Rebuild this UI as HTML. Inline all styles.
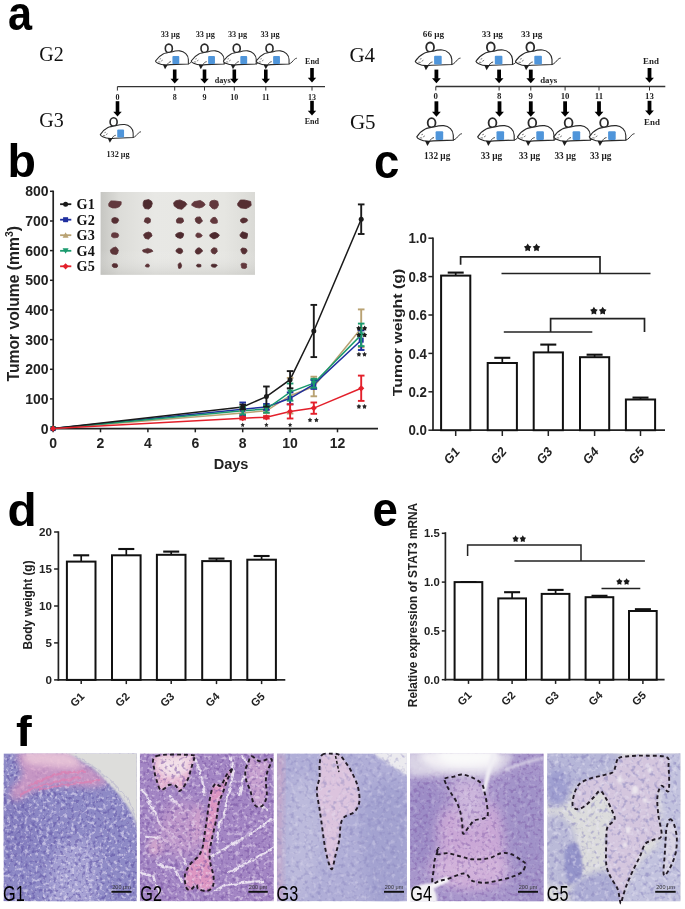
<!DOCTYPE html>
<html><head><meta charset="utf-8"><title>Figure</title>
<style>
html,body{margin:0;padding:0;background:#fff;}
body{width:685px;height:909px;overflow:hidden;font-family:"Liberation Sans", sans-serif;}
svg{display:block;filter:blur(0.35px);}
</style></head><body>
<svg width="685" height="909" viewBox="0 0 685 909">
<rect width="685" height="909" fill="#fff"/>
<text transform="translate(8.0,29.6) scale(0.9,1)" font-family="'Liberation Sans', sans-serif" font-size="48" font-weight="bold" fill="#000">a</text>
<text transform="translate(7.6,177.0) scale(1.0,1)" font-family="'Liberation Sans', sans-serif" font-size="46.5" font-weight="bold" fill="#000">b</text>
<text transform="translate(374.0,177.8) scale(0.95,1)" font-family="'Liberation Sans', sans-serif" font-size="48" font-weight="bold" fill="#000">c</text>
<text transform="translate(7.5,525.7) scale(1.05,1)" font-family="'Liberation Sans', sans-serif" font-size="45.5" font-weight="bold" fill="#000">d</text>
<text transform="translate(372.5,526.4) scale(0.95,1)" font-family="'Liberation Sans', sans-serif" font-size="48" font-weight="bold" fill="#000">e</text>
<text transform="translate(16.0,746.0) scale(1.1,1)" font-family="'Liberation Sans', sans-serif" font-size="43" font-weight="bold" fill="#000">f</text>
<defs>
<symbol id="mouse" overflow="visible">
 <path d="M36.3,22.9 C39,22.4 40.8,19.6 42.3,18 C43.3,17 44.3,16.6 45.2,16.5" fill="none" stroke="#2a2a2a" stroke-width="1"/>
 <ellipse cx="14.8" cy="5.65" rx="3.9" ry="4.75" fill="#fff" stroke="#2a2a2a" stroke-width="1.8"/>
 <path d="M0,19.7 C2,16.5 5,13.5 8.5,11.8 C11,10.6 14,10.2 18,9.6 C21,8.6 24,8.2 27,8.4 C32,8.8 36.5,13 36.5,18 L36.5,22.9 L16.4,23.7 C12,24.3 6,24 2.7,22.1 C1,21.3 0.2,20.5 0,19.7 Z" fill="#fff" stroke="#2a2a2a" stroke-width="1.15"/>
 <rect x="18.8" y="14.1" width="7.6" height="8.8" rx="1" fill="#4f95da"/>
 <path d="M8.2,23.5 L13.6,23.8 L10.6,28.7 Z" fill="#1e1e1e"/>
 <path d="M13.2,23.6 C14,21.8 15.5,20.6 17.2,20.4" fill="none" stroke="#2a2a2a" stroke-width="0.9"/>
 <path d="M4.6,17.6 l1.6,-0.6 M3,20.6 l2.4,0.2 M6.3,19.8 l1.8,-1.2" fill="none" stroke="#444" stroke-width="0.7"/>
</symbol>
</defs>
<text x="39.2" y="61" font-family="'Liberation Serif', serif" font-size="20" fill="#111">G2</text>
<text x="39.2" y="127.3" font-family="'Liberation Serif', serif" font-size="20" fill="#111">G3</text>
<text x="349.4" y="61.5" font-family="'Liberation Serif', serif" font-size="21" fill="#111">G4</text>
<text x="349.9" y="128.5" font-family="'Liberation Serif', serif" font-size="21" fill="#111">G5</text>
<line x1="117.4" y1="86.6" x2="325.0" y2="86.6" stroke="#333" stroke-width="1.3" />
<line x1="117.4" y1="86.6" x2="117.4" y2="90.6" stroke="#333" stroke-width="1.0" />
<text x="117.4" y="99.6" font-family="'Liberation Serif', serif" font-size="8.0" font-weight="bold" text-anchor="middle" fill="#1e1e1e">0</text>
<line x1="174.7" y1="86.6" x2="174.7" y2="90.6" stroke="#333" stroke-width="1.0" />
<text x="174.7" y="99.6" font-family="'Liberation Serif', serif" font-size="8.0" font-weight="bold" text-anchor="middle" fill="#1e1e1e">8</text>
<line x1="204.5" y1="86.6" x2="204.5" y2="90.6" stroke="#333" stroke-width="1.0" />
<text x="204.5" y="99.6" font-family="'Liberation Serif', serif" font-size="8.0" font-weight="bold" text-anchor="middle" fill="#1e1e1e">9</text>
<line x1="234.3" y1="86.6" x2="234.3" y2="90.6" stroke="#333" stroke-width="1.0" />
<text x="234.3" y="99.6" font-family="'Liberation Serif', serif" font-size="8.0" font-weight="bold" text-anchor="middle" fill="#1e1e1e">10</text>
<line x1="265.8" y1="86.6" x2="265.8" y2="90.6" stroke="#333" stroke-width="1.0" />
<text x="265.8" y="99.6" font-family="'Liberation Serif', serif" font-size="8.0" font-weight="bold" text-anchor="middle" fill="#1e1e1e">11</text>
<line x1="312.0" y1="86.6" x2="312.0" y2="90.6" stroke="#333" stroke-width="1.0" />
<text x="312.0" y="99.6" font-family="'Liberation Serif', serif" font-size="8.0" font-weight="bold" text-anchor="middle" fill="#1e1e1e">13</text>
<text x="222.7" y="82.5" font-family="'Liberation Serif', serif" font-size="8.2" font-weight="bold" text-anchor="middle" fill="#1e1e1e">days</text>
<use href="#mouse" transform="translate(155.5,43.3) scale(0.9)"/>
<use href="#mouse" transform="translate(191.2,43.3) scale(0.9)"/>
<use href="#mouse" transform="translate(223.4,43.3) scale(0.9)"/>
<use href="#mouse" transform="translate(256.2,43.3) scale(0.9)"/>
<rect x="172.90" y="69.5" width="3.6" height="9.8" fill="#000"/>
<path d="M170.50,78.7 L178.90,78.7 L174.70,83.5 Z" fill="#000"/>
<rect x="202.70" y="69.5" width="3.6" height="9.8" fill="#000"/>
<path d="M200.30,78.7 L208.70,78.7 L204.50,83.5 Z" fill="#000"/>
<rect x="232.50" y="69.5" width="3.6" height="9.8" fill="#000"/>
<path d="M230.10,78.7 L238.50,78.7 L234.30,83.5 Z" fill="#000"/>
<rect x="264.00" y="69.5" width="3.6" height="9.8" fill="#000"/>
<path d="M261.60,78.7 L270.00,78.7 L265.80,83.5 Z" fill="#000"/>
<text x="170.3" y="36.9" font-family="'Liberation Serif', serif" font-size="8.3" font-weight="bold" text-anchor="middle" fill="#1e1e1e">33 &#956;g</text>
<text x="205.3" y="36.9" font-family="'Liberation Serif', serif" font-size="8.3" font-weight="bold" text-anchor="middle" fill="#1e1e1e">33 &#956;g</text>
<text x="237.6" y="36.9" font-family="'Liberation Serif', serif" font-size="8.3" font-weight="bold" text-anchor="middle" fill="#1e1e1e">33 &#956;g</text>
<text x="270.1" y="36.9" font-family="'Liberation Serif', serif" font-size="8.3" font-weight="bold" text-anchor="middle" fill="#1e1e1e">33 &#956;g</text>
<text x="312.2" y="64.0" font-family="'Liberation Serif', serif" font-size="8.0" font-weight="bold" text-anchor="middle" fill="#1e1e1e">End</text>
<rect x="310.20" y="68.0" width="3.6" height="10.3" fill="#000"/>
<path d="M307.80,77.7 L316.20,77.7 L312.00,82.5 Z" fill="#000"/>
<rect x="115.70" y="101.2" width="3.6" height="11.1" fill="#000"/>
<path d="M113.30,111.7 L121.70,111.7 L117.50,116.5 Z" fill="#000"/>
<use href="#mouse" transform="translate(100.3,116.9) scale(0.9)"/>
<text x="118.0" y="157.0" font-family="'Liberation Serif', serif" font-size="8.2" font-weight="bold" text-anchor="middle" fill="#1e1e1e">132 &#956;g</text>
<rect x="310.20" y="100.8" width="3.6" height="10.5" fill="#000"/>
<path d="M307.80,110.7 L316.20,110.7 L312.00,115.5 Z" fill="#000"/>
<text x="311.9" y="124.3" font-family="'Liberation Serif', serif" font-size="8.0" font-weight="bold" text-anchor="middle" fill="#1e1e1e">End</text>
<line x1="435.8" y1="86.5" x2="665.3" y2="86.5" stroke="#333" stroke-width="1.3" />
<line x1="435.8" y1="86.5" x2="435.8" y2="90.5" stroke="#333" stroke-width="1.0" />
<text x="435.8" y="99.4" font-family="'Liberation Serif', serif" font-size="8.8" font-weight="bold" text-anchor="middle" fill="#1e1e1e">0</text>
<line x1="499.1" y1="86.5" x2="499.1" y2="90.5" stroke="#333" stroke-width="1.0" />
<text x="499.1" y="99.4" font-family="'Liberation Serif', serif" font-size="8.8" font-weight="bold" text-anchor="middle" fill="#1e1e1e">8</text>
<line x1="530.8" y1="86.5" x2="530.8" y2="90.5" stroke="#333" stroke-width="1.0" />
<text x="530.8" y="99.4" font-family="'Liberation Serif', serif" font-size="8.8" font-weight="bold" text-anchor="middle" fill="#1e1e1e">9</text>
<line x1="565.1" y1="86.5" x2="565.1" y2="90.5" stroke="#333" stroke-width="1.0" />
<text x="565.1" y="99.4" font-family="'Liberation Serif', serif" font-size="8.8" font-weight="bold" text-anchor="middle" fill="#1e1e1e">10</text>
<line x1="599.0" y1="86.5" x2="599.0" y2="90.5" stroke="#333" stroke-width="1.0" />
<text x="599.0" y="99.4" font-family="'Liberation Serif', serif" font-size="8.8" font-weight="bold" text-anchor="middle" fill="#1e1e1e">11</text>
<line x1="649.5" y1="86.5" x2="649.5" y2="90.5" stroke="#333" stroke-width="1.0" />
<text x="649.5" y="99.4" font-family="'Liberation Serif', serif" font-size="8.8" font-weight="bold" text-anchor="middle" fill="#1e1e1e">13</text>
<text x="548.7" y="83.2" font-family="'Liberation Serif', serif" font-size="8.8" font-weight="bold" text-anchor="middle" fill="#1e1e1e">days</text>
<use href="#mouse" transform="translate(415.3,41.6) scale(1.0)"/>
<use href="#mouse" transform="translate(476.0,41.6) scale(1.0)"/>
<use href="#mouse" transform="translate(515.5,41.6) scale(1.0)"/>
<rect x="434.50" y="69.6" width="3.8" height="9.2" fill="#000"/>
<path d="M432.00,78.2 L440.80,78.2 L436.40,83.2 Z" fill="#000"/>
<rect x="497.20" y="69.6" width="3.8" height="9.2" fill="#000"/>
<path d="M494.70,78.2 L503.50,78.2 L499.10,83.2 Z" fill="#000"/>
<rect x="528.90" y="69.6" width="3.8" height="9.2" fill="#000"/>
<path d="M526.40,78.2 L535.20,78.2 L530.80,83.2 Z" fill="#000"/>
<text x="433.5" y="36.8" font-family="'Liberation Serif', serif" font-size="9.2" font-weight="bold" text-anchor="middle" fill="#1e1e1e">66 &#956;g</text>
<text x="492.3" y="36.8" font-family="'Liberation Serif', serif" font-size="9.2" font-weight="bold" text-anchor="middle" fill="#1e1e1e">33 &#956;g</text>
<text x="531.6" y="36.8" font-family="'Liberation Serif', serif" font-size="9.2" font-weight="bold" text-anchor="middle" fill="#1e1e1e">33 &#956;g</text>
<text x="651.0" y="64.2" font-family="'Liberation Serif', serif" font-size="8.9" font-weight="bold" text-anchor="middle" fill="#1e1e1e">End</text>
<rect x="647.60" y="68.0" width="3.8" height="10.3" fill="#000"/>
<path d="M645.10,77.7 L653.90,77.7 L649.50,82.7 Z" fill="#000"/>
<rect x="434.50" y="101.3" width="3.8" height="11.0" fill="#000"/>
<path d="M432.00,111.7 L440.80,111.7 L436.40,116.7 Z" fill="#000"/>
<rect x="497.60" y="101.3" width="3.8" height="11.0" fill="#000"/>
<path d="M495.10,111.7 L503.90,111.7 L499.50,116.7 Z" fill="#000"/>
<rect x="528.90" y="101.3" width="3.8" height="11.0" fill="#000"/>
<path d="M526.40,111.7 L535.20,111.7 L530.80,116.7 Z" fill="#000"/>
<rect x="563.20" y="101.3" width="3.8" height="11.0" fill="#000"/>
<path d="M560.70,111.7 L569.50,111.7 L565.10,116.7 Z" fill="#000"/>
<rect x="597.10" y="101.3" width="3.8" height="11.0" fill="#000"/>
<path d="M594.60,111.7 L603.40,111.7 L599.00,116.7 Z" fill="#000"/>
<use href="#mouse" transform="translate(416.8,117.2) scale(1.0)"/>
<use href="#mouse" transform="translate(477.7,117.2) scale(1.0)"/>
<use href="#mouse" transform="translate(517.5,117.2) scale(1.0)"/>
<use href="#mouse" transform="translate(553.8,117.2) scale(1.0)"/>
<use href="#mouse" transform="translate(589.3,117.2) scale(1.0)"/>
<text x="437.2" y="158.8" font-family="'Liberation Serif', serif" font-size="9.3" font-weight="bold" text-anchor="middle" fill="#1e1e1e">132 &#956;g</text>
<text x="491.5" y="158.8" font-family="'Liberation Serif', serif" font-size="9.3" font-weight="bold" text-anchor="middle" fill="#1e1e1e">33 &#956;g</text>
<text x="529.5" y="158.8" font-family="'Liberation Serif', serif" font-size="9.3" font-weight="bold" text-anchor="middle" fill="#1e1e1e">33 &#956;g</text>
<text x="565.2" y="158.8" font-family="'Liberation Serif', serif" font-size="9.3" font-weight="bold" text-anchor="middle" fill="#1e1e1e">33 &#956;g</text>
<text x="600.7" y="158.8" font-family="'Liberation Serif', serif" font-size="9.3" font-weight="bold" text-anchor="middle" fill="#1e1e1e">33 &#956;g</text>
<rect x="647.60" y="100.8" width="3.8" height="10.3" fill="#000"/>
<path d="M645.10,110.5 L653.90,110.5 L649.50,115.5 Z" fill="#000"/>
<text x="652.0" y="125.3" font-family="'Liberation Serif', serif" font-size="8.9" font-weight="bold" text-anchor="middle" fill="#1e1e1e">End</text>
<defs><linearGradient id="phbg" x1="0" y1="0" x2="1" y2="0"><stop offset="0" stop-color="#c6c6c2"/><stop offset="0.12" stop-color="#dcdcd8"/><stop offset="0.35" stop-color="#e8e8e5"/><stop offset="0.8" stop-color="#e6e6e2"/><stop offset="1" stop-color="#dadad6"/></linearGradient><linearGradient id="phv" x1="0" y1="0" x2="0" y2="1"><stop offset="0" stop-color="#fff" stop-opacity="0"/><stop offset="0.7" stop-color="#fff" stop-opacity="0"/><stop offset="1" stop-color="#b8b8b4" stop-opacity="0.35"/></linearGradient><filter id="tb" x="-30%" y="-30%" width="160%" height="160%"><feGaussianBlur stdDeviation="0.45"/></filter></defs>
<rect x="100.6" y="192" width="154.4" height="82.8" fill="url(#phbg)"/>
<rect x="100.6" y="192" width="154.4" height="82.8" fill="url(#phv)"/>
<g filter="url(#tb)">
<path d="M121.1,204.2 119.3,206.7 115.9,208.0 112.4,207.9 108.9,206.3 108.7,203.8 110.7,200.9 115.0,201.0 121.2,201.8Z" fill="#62383d" stroke="#62383d" stroke-width="0.8" stroke-linejoin="round"/>
<path d="M152.3,203.6 151.1,207.2 148.7,209.1 144.8,208.5 143.2,205.5 143.2,202.8 144.1,200.5 148.7,199.6 151.6,201.3Z" fill="#4e2a2f" stroke="#4e2a2f" stroke-width="0.8" stroke-linejoin="round"/>
<path d="M186.9,204.3 184.5,207.0 181.8,209.3 177.7,208.5 174.2,205.9 173.6,202.8 175.8,200.8 180.0,199.9 185.1,202.1Z" fill="#552e33" stroke="#552e33" stroke-width="0.8" stroke-linejoin="round"/>
<path d="M205.2,204.8 202.7,206.9 199.3,208.0 195.4,207.3 191.6,205.2 192.4,203.2 194.3,201.6 200.4,200.5 203.7,202.6Z" fill="#62383d" stroke="#62383d" stroke-width="0.8" stroke-linejoin="round"/>
<path d="M218.5,205.1 217.0,207.9 214.7,209.1 212.3,208.4 209.7,205.5 210.0,202.1 211.3,200.8 214.5,200.2 217.7,201.2Z" fill="#62383d" stroke="#62383d" stroke-width="0.8" stroke-linejoin="round"/>
<path d="M251.2,205.4 249.1,207.1 246.0,208.6 240.6,207.9 237.7,205.4 237.8,203.3 240.3,200.0 244.5,200.0 250.7,201.5Z" fill="#552e33" stroke="#552e33" stroke-width="0.8" stroke-linejoin="round"/>
<path d="M118.7,220.4 117.1,222.9 115.3,223.3 113.2,223.1 111.9,221.5 111.9,219.0 112.5,218.2 114.9,217.5 117.9,218.4Z" fill="#552e33" stroke="#552e33" stroke-width="0.8" stroke-linejoin="round"/>
<path d="M150.4,220.0 150.2,222.3 147.6,223.5 146.2,222.7 144.2,221.7 144.8,219.6 145.5,218.0 148.4,217.7 150.2,218.8Z" fill="#5c3439" stroke="#5c3439" stroke-width="0.8" stroke-linejoin="round"/>
<path d="M183.6,221.0 183.1,222.0 181.2,223.2 177.0,222.9 176.4,221.2 176.5,219.8 178.2,217.9 180.8,217.9 182.7,218.3Z" fill="#5c3439" stroke="#5c3439" stroke-width="0.8" stroke-linejoin="round"/>
<path d="M202.5,221.0 200.9,222.7 199.3,223.7 197.7,223.2 195.8,221.8 195.1,218.9 196.7,217.2 200.1,216.9 201.0,218.4Z" fill="#5c3439" stroke="#5c3439" stroke-width="0.8" stroke-linejoin="round"/>
<path d="M217.4,220.5 217.2,223.0 214.5,223.4 212.0,223.1 210.4,221.6 210.8,219.8 212.8,217.6 215.2,217.3 216.5,218.7Z" fill="#62383d" stroke="#62383d" stroke-width="0.8" stroke-linejoin="round"/>
<path d="M247.6,220.5 246.6,221.8 243.8,222.9 242.1,222.9 240.5,221.3 240.7,219.4 242.8,218.1 244.5,218.1 247.0,218.9Z" fill="#552e33" stroke="#552e33" stroke-width="0.8" stroke-linejoin="round"/>
<path d="M118.7,235.4 117.8,237.3 114.9,237.8 113.5,237.7 111.6,236.6 111.5,234.7 112.4,233.0 115.2,232.8 117.9,233.5Z" fill="#62383d" stroke="#62383d" stroke-width="0.8" stroke-linejoin="round"/>
<path d="M152.1,235.9 150.7,237.0 148.4,239.2 145.1,238.3 144.0,236.1 143.5,234.7 145.4,233.0 148.6,232.0 151.0,233.0Z" fill="#552e33" stroke="#552e33" stroke-width="0.8" stroke-linejoin="round"/>
<path d="M183.6,235.1 182.6,237.4 180.5,238.4 177.2,237.5 175.9,236.2 175.7,234.4 177.7,233.0 180.6,232.3 183.5,233.6Z" fill="#4e2a2f" stroke="#4e2a2f" stroke-width="0.8" stroke-linejoin="round"/>
<path d="M202.3,235.8 201.4,236.7 199.4,237.6 197.2,237.6 195.9,236.2 195.9,234.8 197.2,233.0 199.4,233.2 200.8,233.9Z" fill="#62383d" stroke="#62383d" stroke-width="0.8" stroke-linejoin="round"/>
<path d="M219.4,235.0 217.8,237.3 214.0,238.9 212.4,238.3 209.9,236.4 209.8,234.7 212.4,233.0 215.0,232.4 216.9,233.1Z" fill="#4e2a2f" stroke="#4e2a2f" stroke-width="0.8" stroke-linejoin="round"/>
<path d="M247.5,235.4 246.7,238.3 243.8,238.5 242.4,238.1 240.2,236.2 240.0,234.7 242.3,231.8 244.2,232.3 247.5,233.6Z" fill="#4e2a2f" stroke="#4e2a2f" stroke-width="0.8" stroke-linejoin="round"/>
<path d="M118.3,250.3 117.7,253.2 116.4,254.5 112.4,254.0 110.9,252.7 110.3,250.1 112.8,248.0 115.7,247.0 117.4,248.6Z" fill="#5c3439" stroke="#5c3439" stroke-width="0.8" stroke-linejoin="round"/>
<path d="M152.9,251.3 151.1,252.0 147.6,253.2 145.4,252.6 143.0,251.7 142.6,250.1 146.3,248.9 147.5,248.4 151.7,249.7Z" fill="#5c3439" stroke="#5c3439" stroke-width="0.8" stroke-linejoin="round"/>
<path d="M182.8,251.2 182.1,252.7 180.5,253.7 178.2,253.2 176.0,251.6 176.1,250.0 178.3,248.3 180.3,248.3 181.8,249.0Z" fill="#552e33" stroke="#552e33" stroke-width="0.8" stroke-linejoin="round"/>
<path d="M202.6,251.0 201.1,252.6 199.1,254.0 196.7,254.0 195.2,251.9 195.6,250.3 197.0,248.5 199.1,247.7 201.6,249.3Z" fill="#552e33" stroke="#552e33" stroke-width="0.8" stroke-linejoin="round"/>
<path d="M217.3,251.4 216.5,252.5 214.9,254.0 212.5,253.4 211.3,251.8 211.1,250.1 212.5,248.4 214.0,247.7 216.6,248.4Z" fill="#5c3439" stroke="#5c3439" stroke-width="0.8" stroke-linejoin="round"/>
<path d="M247.2,251.0 245.9,252.9 244.8,254.0 242.6,253.7 241.3,251.5 240.8,249.3 242.4,248.0 244.7,248.3 246.3,248.9Z" fill="#552e33" stroke="#552e33" stroke-width="0.8" stroke-linejoin="round"/>
<path d="M117.8,266.0 116.8,267.4 115.1,267.6 113.9,267.5 112.4,266.4 112.2,264.7 113.4,263.7 115.5,263.7 116.8,263.9Z" fill="#552e33" stroke="#552e33" stroke-width="0.8" stroke-linejoin="round"/>
<path d="M149.4,265.8 149.0,266.8 148.3,267.1 146.5,266.9 145.3,266.2 145.7,265.2 146.5,264.2 148.2,264.1 149.1,264.8Z" fill="#5c3439" stroke="#5c3439" stroke-width="0.8" stroke-linejoin="round"/>
<path d="M181.6,265.5 181.1,267.6 180.3,268.2 178.8,268.4 178.4,266.9 178.1,264.7 178.8,263.5 180.4,262.7 181.1,264.1Z" fill="#552e33" stroke="#552e33" stroke-width="0.8" stroke-linejoin="round"/>
<path d="M200.9,265.9 200.9,266.7 198.7,267.1 197.7,266.9 196.4,265.9 196.6,265.2 197.3,264.3 198.8,264.2 200.9,264.7Z" fill="#4e2a2f" stroke="#4e2a2f" stroke-width="0.8" stroke-linejoin="round"/>
<path d="M217.2,265.5 216.0,266.7 215.1,267.3 212.8,267.1 211.7,266.5 211.1,265.2 212.1,264.3 214.9,264.2 216.7,264.8Z" fill="#4e2a2f" stroke="#4e2a2f" stroke-width="0.8" stroke-linejoin="round"/>
<path d="M246.5,265.5 246.6,267.5 245.1,268.5 241.9,268.1 241.5,266.7 241.0,264.6 241.8,263.3 244.3,263.2 246.7,264.1Z" fill="#62383d" stroke="#62383d" stroke-width="0.8" stroke-linejoin="round"/>
</g>
<line x1="53.2" y1="190.6" x2="53.2" y2="429.4" stroke="#222" stroke-width="1.7" />
<line x1="52.4" y1="428.6" x2="378.0" y2="428.6" stroke="#222" stroke-width="1.7" />
<line x1="50.0" y1="428.6" x2="53.2" y2="428.6" stroke="#222" stroke-width="1.5" />
<text x="48.6" y="433.6" font-family="'Liberation Sans', sans-serif" font-size="14" font-weight="bold" text-anchor="end" fill="#222" >0</text>
<line x1="50.0" y1="398.9" x2="53.2" y2="398.9" stroke="#222" stroke-width="1.5" />
<text x="48.6" y="403.9" font-family="'Liberation Sans', sans-serif" font-size="14" font-weight="bold" text-anchor="end" fill="#222" >100</text>
<line x1="50.0" y1="369.3" x2="53.2" y2="369.3" stroke="#222" stroke-width="1.5" />
<text x="48.6" y="374.3" font-family="'Liberation Sans', sans-serif" font-size="14" font-weight="bold" text-anchor="end" fill="#222" >200</text>
<line x1="50.0" y1="339.6" x2="53.2" y2="339.6" stroke="#222" stroke-width="1.5" />
<text x="48.6" y="344.6" font-family="'Liberation Sans', sans-serif" font-size="14" font-weight="bold" text-anchor="end" fill="#222" >300</text>
<line x1="50.0" y1="310.0" x2="53.2" y2="310.0" stroke="#222" stroke-width="1.5" />
<text x="48.6" y="315.0" font-family="'Liberation Sans', sans-serif" font-size="14" font-weight="bold" text-anchor="end" fill="#222" >400</text>
<line x1="50.0" y1="280.3" x2="53.2" y2="280.3" stroke="#222" stroke-width="1.5" />
<text x="48.6" y="285.3" font-family="'Liberation Sans', sans-serif" font-size="14" font-weight="bold" text-anchor="end" fill="#222" >500</text>
<line x1="50.0" y1="250.6" x2="53.2" y2="250.6" stroke="#222" stroke-width="1.5" />
<text x="48.6" y="255.6" font-family="'Liberation Sans', sans-serif" font-size="14" font-weight="bold" text-anchor="end" fill="#222" >600</text>
<line x1="50.0" y1="221.0" x2="53.2" y2="221.0" stroke="#222" stroke-width="1.5" />
<text x="48.6" y="226.0" font-family="'Liberation Sans', sans-serif" font-size="14" font-weight="bold" text-anchor="end" fill="#222" >700</text>
<line x1="50.0" y1="191.3" x2="53.2" y2="191.3" stroke="#222" stroke-width="1.5" />
<text x="48.6" y="196.3" font-family="'Liberation Sans', sans-serif" font-size="14" font-weight="bold" text-anchor="end" fill="#222" >800</text>
<line x1="53.1" y1="428.6" x2="53.1" y2="432.3" stroke="#222" stroke-width="1.5" />
<text x="53.1" y="447.5" font-family="'Liberation Sans', sans-serif" font-size="14" font-weight="bold" text-anchor="middle" fill="#222" >0</text>
<line x1="100.5" y1="428.6" x2="100.5" y2="432.3" stroke="#222" stroke-width="1.5" />
<text x="100.5" y="447.5" font-family="'Liberation Sans', sans-serif" font-size="14" font-weight="bold" text-anchor="middle" fill="#222" >2</text>
<line x1="147.9" y1="428.6" x2="147.9" y2="432.3" stroke="#222" stroke-width="1.5" />
<text x="147.9" y="447.5" font-family="'Liberation Sans', sans-serif" font-size="14" font-weight="bold" text-anchor="middle" fill="#222" >4</text>
<line x1="195.3" y1="428.6" x2="195.3" y2="432.3" stroke="#222" stroke-width="1.5" />
<text x="195.3" y="447.5" font-family="'Liberation Sans', sans-serif" font-size="14" font-weight="bold" text-anchor="middle" fill="#222" >6</text>
<line x1="242.7" y1="428.6" x2="242.7" y2="432.3" stroke="#222" stroke-width="1.5" />
<text x="242.7" y="447.5" font-family="'Liberation Sans', sans-serif" font-size="14" font-weight="bold" text-anchor="middle" fill="#222" >8</text>
<line x1="290.1" y1="428.6" x2="290.1" y2="432.3" stroke="#222" stroke-width="1.5" />
<text x="290.1" y="447.5" font-family="'Liberation Sans', sans-serif" font-size="14" font-weight="bold" text-anchor="middle" fill="#222" >10</text>
<line x1="337.5" y1="428.6" x2="337.5" y2="432.3" stroke="#222" stroke-width="1.5" />
<text x="337.5" y="447.5" font-family="'Liberation Sans', sans-serif" font-size="14" font-weight="bold" text-anchor="middle" fill="#222" >12</text>
<text x="231.0" y="469.4" font-family="'Liberation Sans', sans-serif" font-size="14.5" font-weight="bold" text-anchor="middle" fill="#222" >Days</text>
<text transform="translate(19,303.7) rotate(-90)" font-family="'Liberation Sans', sans-serif" font-size="15.7" font-weight="bold" text-anchor="middle" fill="#222">Tumor volume (mm<tspan dy="-6.5" font-size="10.5">3</tspan><tspan dy="6.5">)</tspan></text>
<path d="M53.1,428.6 L242.7,412.9 L266.4,410.8 L290.1,395.7 L313.8,386.5 L361.2,328.3" fill="none" stroke="#b9a273" stroke-width="1.5"/>
<path d="M53.1,428.6 L242.7,409.3 L266.4,406.9 L290.1,398.3 L313.8,384.4 L361.2,340.2" fill="none" stroke="#1f2f9f" stroke-width="1.5"/>
<path d="M53.1,428.6 L242.7,410.8 L266.4,409.0 L290.1,392.1 L313.8,383.2 L361.2,334.9" fill="none" stroke="#1b9a6e" stroke-width="1.5"/>
<path d="M53.1,428.6 L242.7,406.9 L266.4,396.6 L290.1,379.7 L313.8,331.0 L361.2,219.2" fill="none" stroke="#1a1a1a" stroke-width="1.5"/>
<path d="M53.1,428.6 L242.7,418.2 L266.4,417.3 L290.1,411.4 L313.8,408.1 L361.2,388.3" fill="none" stroke="#e3202b" stroke-width="1.5"/>
<path d="M53.1,425.6 L56.1,431.1 L50.1,431.1 Z" fill="#b9a273"/>
<line x1="242.7" y1="410.5" x2="242.7" y2="415.3" stroke="#b9a273" stroke-width="1.9" />
<line x1="239.4" y1="410.5" x2="246.0" y2="410.5" stroke="#b9a273" stroke-width="1.9" />
<line x1="239.4" y1="415.3" x2="246.0" y2="415.3" stroke="#b9a273" stroke-width="1.9" />
<path d="M242.7,409.9 L245.7,415.4 L239.7,415.4 Z" fill="#b9a273"/>
<line x1="266.4" y1="408.4" x2="266.4" y2="413.2" stroke="#b9a273" stroke-width="1.9" />
<line x1="263.1" y1="408.4" x2="269.7" y2="408.4" stroke="#b9a273" stroke-width="1.9" />
<line x1="263.1" y1="413.2" x2="269.7" y2="413.2" stroke="#b9a273" stroke-width="1.9" />
<path d="M266.4,407.8 L269.4,413.3 L263.4,413.3 Z" fill="#b9a273"/>
<line x1="290.1" y1="377.9" x2="290.1" y2="413.5" stroke="#b9a273" stroke-width="1.9" />
<line x1="286.8" y1="377.9" x2="293.4" y2="377.9" stroke="#b9a273" stroke-width="1.9" />
<line x1="286.8" y1="413.5" x2="293.4" y2="413.5" stroke="#b9a273" stroke-width="1.9" />
<path d="M290.1,392.7 L293.1,398.2 L287.1,398.2 Z" fill="#b9a273"/>
<line x1="313.8" y1="376.7" x2="313.8" y2="396.3" stroke="#b9a273" stroke-width="1.9" />
<line x1="310.5" y1="376.7" x2="317.1" y2="376.7" stroke="#b9a273" stroke-width="1.9" />
<line x1="310.5" y1="396.3" x2="317.1" y2="396.3" stroke="#b9a273" stroke-width="1.9" />
<path d="M313.8,383.5 L316.8,389.0 L310.8,389.0 Z" fill="#b9a273"/>
<line x1="361.2" y1="309.4" x2="361.2" y2="347.3" stroke="#b9a273" stroke-width="1.9" />
<line x1="357.9" y1="309.4" x2="364.5" y2="309.4" stroke="#b9a273" stroke-width="1.9" />
<line x1="357.9" y1="347.3" x2="364.5" y2="347.3" stroke="#b9a273" stroke-width="1.9" />
<path d="M361.2,325.3 L364.2,330.8 L358.2,330.8 Z" fill="#b9a273"/>
<rect x="50.6" y="426.1" width="5.0" height="5.0" fill="#1f2f9f"/>
<line x1="242.7" y1="402.5" x2="242.7" y2="416.1" stroke="#1f2f9f" stroke-width="1.9" />
<line x1="239.4" y1="402.5" x2="246.0" y2="402.5" stroke="#1f2f9f" stroke-width="1.9" />
<line x1="239.4" y1="416.1" x2="246.0" y2="416.1" stroke="#1f2f9f" stroke-width="1.9" />
<rect x="240.2" y="406.8" width="5.0" height="5.0" fill="#1f2f9f"/>
<line x1="266.4" y1="404.0" x2="266.4" y2="409.9" stroke="#1f2f9f" stroke-width="1.9" />
<line x1="263.1" y1="404.0" x2="269.7" y2="404.0" stroke="#1f2f9f" stroke-width="1.9" />
<line x1="263.1" y1="409.9" x2="269.7" y2="409.9" stroke="#1f2f9f" stroke-width="1.9" />
<rect x="263.9" y="404.4" width="5.0" height="5.0" fill="#1f2f9f"/>
<line x1="290.1" y1="392.4" x2="290.1" y2="404.3" stroke="#1f2f9f" stroke-width="1.9" />
<line x1="286.8" y1="392.4" x2="293.4" y2="392.4" stroke="#1f2f9f" stroke-width="1.9" />
<line x1="286.8" y1="404.3" x2="293.4" y2="404.3" stroke="#1f2f9f" stroke-width="1.9" />
<rect x="287.6" y="395.8" width="5.0" height="5.0" fill="#1f2f9f"/>
<line x1="313.8" y1="380.0" x2="313.8" y2="388.9" stroke="#1f2f9f" stroke-width="1.9" />
<line x1="310.5" y1="380.0" x2="317.1" y2="380.0" stroke="#1f2f9f" stroke-width="1.9" />
<line x1="310.5" y1="388.9" x2="317.1" y2="388.9" stroke="#1f2f9f" stroke-width="1.9" />
<rect x="311.3" y="381.9" width="5.0" height="5.0" fill="#1f2f9f"/>
<line x1="361.2" y1="330.4" x2="361.2" y2="350.0" stroke="#1f2f9f" stroke-width="1.9" />
<line x1="357.9" y1="330.4" x2="364.5" y2="330.4" stroke="#1f2f9f" stroke-width="1.9" />
<line x1="357.9" y1="350.0" x2="364.5" y2="350.0" stroke="#1f2f9f" stroke-width="1.9" />
<rect x="358.7" y="337.7" width="5.0" height="5.0" fill="#1f2f9f"/>
<path d="M53.1,431.6 L56.1,426.1 L50.1,426.1 Z" fill="#1b9a6e"/>
<line x1="242.7" y1="407.2" x2="242.7" y2="414.4" stroke="#1b9a6e" stroke-width="1.9" />
<line x1="239.4" y1="407.2" x2="246.0" y2="407.2" stroke="#1b9a6e" stroke-width="1.9" />
<line x1="239.4" y1="414.4" x2="246.0" y2="414.4" stroke="#1b9a6e" stroke-width="1.9" />
<path d="M242.7,413.8 L245.7,408.3 L239.7,408.3 Z" fill="#1b9a6e"/>
<line x1="266.4" y1="405.5" x2="266.4" y2="412.6" stroke="#1b9a6e" stroke-width="1.9" />
<line x1="263.1" y1="405.5" x2="269.7" y2="405.5" stroke="#1b9a6e" stroke-width="1.9" />
<line x1="263.1" y1="412.6" x2="269.7" y2="412.6" stroke="#1b9a6e" stroke-width="1.9" />
<path d="M266.4,412.0 L269.4,406.5 L263.4,406.5 Z" fill="#1b9a6e"/>
<line x1="290.1" y1="383.5" x2="290.1" y2="400.7" stroke="#1b9a6e" stroke-width="1.9" />
<line x1="286.8" y1="383.5" x2="293.4" y2="383.5" stroke="#1b9a6e" stroke-width="1.9" />
<line x1="286.8" y1="400.7" x2="293.4" y2="400.7" stroke="#1b9a6e" stroke-width="1.9" />
<path d="M290.1,395.1 L293.1,389.6 L287.1,389.6 Z" fill="#1b9a6e"/>
<line x1="313.8" y1="378.8" x2="313.8" y2="387.7" stroke="#1b9a6e" stroke-width="1.9" />
<line x1="310.5" y1="378.8" x2="317.1" y2="378.8" stroke="#1b9a6e" stroke-width="1.9" />
<line x1="310.5" y1="387.7" x2="317.1" y2="387.7" stroke="#1b9a6e" stroke-width="1.9" />
<path d="M313.8,386.2 L316.8,380.7 L310.8,380.7 Z" fill="#1b9a6e"/>
<line x1="361.2" y1="323.6" x2="361.2" y2="346.1" stroke="#1b9a6e" stroke-width="1.9" />
<line x1="357.9" y1="323.6" x2="364.5" y2="323.6" stroke="#1b9a6e" stroke-width="1.9" />
<line x1="357.9" y1="346.1" x2="364.5" y2="346.1" stroke="#1b9a6e" stroke-width="1.9" />
<path d="M361.2,337.9 L364.2,332.4 L358.2,332.4 Z" fill="#1b9a6e"/>
<circle cx="53.1" cy="428.6" r="2.5" fill="#1a1a1a"/>
<line x1="242.7" y1="404.6" x2="242.7" y2="409.3" stroke="#1a1a1a" stroke-width="1.9" />
<line x1="239.4" y1="404.6" x2="246.0" y2="404.6" stroke="#1a1a1a" stroke-width="1.9" />
<line x1="239.4" y1="409.3" x2="246.0" y2="409.3" stroke="#1a1a1a" stroke-width="1.9" />
<circle cx="242.7" cy="406.9" r="2.5" fill="#1a1a1a"/>
<line x1="266.4" y1="386.5" x2="266.4" y2="406.7" stroke="#1a1a1a" stroke-width="1.9" />
<line x1="263.1" y1="386.5" x2="269.7" y2="386.5" stroke="#1a1a1a" stroke-width="1.9" />
<line x1="263.1" y1="406.7" x2="269.7" y2="406.7" stroke="#1a1a1a" stroke-width="1.9" />
<circle cx="266.4" cy="396.6" r="2.5" fill="#1a1a1a"/>
<line x1="290.1" y1="371.1" x2="290.1" y2="388.3" stroke="#1a1a1a" stroke-width="1.9" />
<line x1="286.8" y1="371.1" x2="293.4" y2="371.1" stroke="#1a1a1a" stroke-width="1.9" />
<line x1="286.8" y1="388.3" x2="293.4" y2="388.3" stroke="#1a1a1a" stroke-width="1.9" />
<circle cx="290.1" cy="379.7" r="2.5" fill="#1a1a1a"/>
<line x1="313.8" y1="304.9" x2="313.8" y2="357.1" stroke="#1a1a1a" stroke-width="1.9" />
<line x1="310.5" y1="304.9" x2="317.1" y2="304.9" stroke="#1a1a1a" stroke-width="1.9" />
<line x1="310.5" y1="357.1" x2="317.1" y2="357.1" stroke="#1a1a1a" stroke-width="1.9" />
<circle cx="313.8" cy="331.0" r="2.5" fill="#1a1a1a"/>
<line x1="361.2" y1="204.4" x2="361.2" y2="234.0" stroke="#1a1a1a" stroke-width="1.9" />
<line x1="357.9" y1="204.4" x2="364.5" y2="204.4" stroke="#1a1a1a" stroke-width="1.9" />
<line x1="357.9" y1="234.0" x2="364.5" y2="234.0" stroke="#1a1a1a" stroke-width="1.9" />
<circle cx="361.2" cy="219.2" r="2.5" fill="#1a1a1a"/>
<path d="M53.1,425.5 L56.2,428.6 L53.1,431.7 L50.0,428.6 Z" fill="#e3202b"/>
<line x1="242.7" y1="417.0" x2="242.7" y2="419.4" stroke="#e3202b" stroke-width="1.9" />
<line x1="239.4" y1="417.0" x2="246.0" y2="417.0" stroke="#e3202b" stroke-width="1.9" />
<line x1="239.4" y1="419.4" x2="246.0" y2="419.4" stroke="#e3202b" stroke-width="1.9" />
<path d="M242.7,415.1 L245.8,418.2 L242.7,421.3 L239.6,418.2 Z" fill="#e3202b"/>
<line x1="266.4" y1="416.1" x2="266.4" y2="418.5" stroke="#e3202b" stroke-width="1.9" />
<line x1="263.1" y1="416.1" x2="269.7" y2="416.1" stroke="#e3202b" stroke-width="1.9" />
<line x1="263.1" y1="418.5" x2="269.7" y2="418.5" stroke="#e3202b" stroke-width="1.9" />
<path d="M266.4,414.2 L269.5,417.3 L266.4,420.4 L263.3,417.3 Z" fill="#e3202b"/>
<line x1="290.1" y1="404.3" x2="290.1" y2="418.5" stroke="#e3202b" stroke-width="1.9" />
<line x1="286.8" y1="404.3" x2="293.4" y2="404.3" stroke="#e3202b" stroke-width="1.9" />
<line x1="286.8" y1="418.5" x2="293.4" y2="418.5" stroke="#e3202b" stroke-width="1.9" />
<path d="M290.1,408.3 L293.2,411.4 L290.1,414.5 L287.0,411.4 Z" fill="#e3202b"/>
<line x1="313.8" y1="402.5" x2="313.8" y2="413.8" stroke="#e3202b" stroke-width="1.9" />
<line x1="310.5" y1="402.5" x2="317.1" y2="402.5" stroke="#e3202b" stroke-width="1.9" />
<line x1="310.5" y1="413.8" x2="317.1" y2="413.8" stroke="#e3202b" stroke-width="1.9" />
<path d="M313.8,405.0 L316.9,408.1 L313.8,411.2 L310.7,408.1 Z" fill="#e3202b"/>
<line x1="361.2" y1="375.6" x2="361.2" y2="400.9" stroke="#e3202b" stroke-width="1.9" />
<line x1="357.9" y1="375.6" x2="364.5" y2="375.6" stroke="#e3202b" stroke-width="1.9" />
<line x1="357.9" y1="400.9" x2="364.5" y2="400.9" stroke="#e3202b" stroke-width="1.9" />
<path d="M361.2,385.2 L364.3,388.3 L361.2,391.4 L358.1,388.3 Z" fill="#e3202b"/>
<path d="M242.70,422.42 L243.38,423.90 L244.89,424.13 L243.79,425.28 L244.05,426.91 L242.70,426.14 L241.35,426.91 L241.61,425.28 L240.51,424.13 L242.02,423.90 Z" fill="#2a2a2a"/>
<path d="M266.40,422.42 L267.08,423.90 L268.59,424.13 L267.49,425.28 L267.75,426.91 L266.40,426.14 L265.05,426.91 L265.31,425.28 L264.21,424.13 L265.72,423.90 Z" fill="#2a2a2a"/>
<path d="M290.10,422.42 L290.78,423.90 L292.29,424.13 L291.19,425.28 L291.45,426.91 L290.10,426.14 L288.75,426.91 L289.01,425.28 L287.91,424.13 L289.42,423.90 Z" fill="#2a2a2a"/>
<path d="M310.00,417.51 L310.82,418.88 L312.28,419.30 L311.32,420.56 L311.41,422.20 L310.00,421.60 L308.59,422.20 L308.68,420.56 L307.72,419.30 L309.18,418.88 Z" fill="#2a2a2a"/>
<path d="M316.40,417.51 L317.22,418.88 L318.68,419.30 L317.72,420.56 L317.81,422.20 L316.40,421.60 L314.99,422.20 L315.08,420.56 L314.12,419.30 L315.58,418.88 Z" fill="#2a2a2a"/>
<path d="M358.70,325.59 L359.59,327.08 L361.17,327.53 L360.13,328.90 L360.23,330.67 L358.70,330.03 L357.17,330.67 L357.27,328.90 L356.23,327.53 L357.81,327.08 Z" fill="#1a1a1a"/>
<path d="M364.70,325.59 L365.59,327.08 L367.17,327.53 L366.13,328.90 L366.23,330.67 L364.70,330.03 L363.17,330.67 L363.27,328.90 L362.23,327.53 L363.81,327.08 Z" fill="#1a1a1a"/>
<path d="M358.70,332.19 L359.59,333.68 L361.17,334.13 L360.13,335.50 L360.23,337.27 L358.70,336.63 L357.17,337.27 L357.27,335.50 L356.23,334.13 L357.81,333.68 Z" fill="#1a1a1a"/>
<path d="M364.70,332.19 L365.59,333.68 L367.17,334.13 L366.13,335.50 L366.23,337.27 L364.70,336.63 L363.17,337.27 L363.27,335.50 L362.23,334.13 L363.81,333.68 Z" fill="#1a1a1a"/>
<path d="M358.90,351.70 L359.75,353.13 L361.28,353.57 L360.28,354.88 L360.37,356.58 L358.90,355.97 L357.43,356.58 L357.52,354.88 L356.52,353.57 L358.05,353.13 Z" fill="#2a2a2a"/>
<path d="M364.50,351.70 L365.35,353.13 L366.88,353.57 L365.88,354.88 L365.97,356.58 L364.50,355.97 L363.03,356.58 L363.12,354.88 L362.12,353.57 L363.65,353.13 Z" fill="#2a2a2a"/>
<path d="M358.90,403.90 L359.75,405.33 L361.28,405.77 L360.28,407.08 L360.37,408.78 L358.90,408.17 L357.43,408.78 L357.52,407.08 L356.52,405.77 L358.05,405.33 Z" fill="#2a2a2a"/>
<path d="M364.50,403.90 L365.35,405.33 L366.88,405.77 L365.88,407.08 L365.97,408.78 L364.50,408.17 L363.03,408.78 L363.12,407.08 L362.12,405.77 L363.65,405.33 Z" fill="#2a2a2a"/>
<line x1="60.1" y1="204.2" x2="71.3" y2="204.2" stroke="#1a1a1a" stroke-width="1.8" />
<circle cx="65.6" cy="204.2" r="2.5" fill="#1a1a1a"/>
<text x="76.6" y="209.3" font-family="'Liberation Serif', serif" font-size="14.2" font-weight="bold" fill="#111">G1</text>
<line x1="60.1" y1="219.7" x2="71.3" y2="219.7" stroke="#1f2f9f" stroke-width="1.8" />
<rect x="63.1" y="217.2" width="5.0" height="5.0" fill="#1f2f9f"/>
<text x="76.6" y="224.8" font-family="'Liberation Serif', serif" font-size="14.2" font-weight="bold" fill="#111">G2</text>
<line x1="60.1" y1="235.2" x2="71.3" y2="235.2" stroke="#b9a273" stroke-width="1.8" />
<path d="M65.6,232.2 L68.6,237.7 L62.6,237.7 Z" fill="#b9a273"/>
<text x="76.6" y="240.3" font-family="'Liberation Serif', serif" font-size="14.2" font-weight="bold" fill="#111">G3</text>
<line x1="60.1" y1="250.8" x2="71.3" y2="250.8" stroke="#1b9a6e" stroke-width="1.8" />
<path d="M65.6,253.8 L68.6,248.3 L62.6,248.3 Z" fill="#1b9a6e"/>
<text x="76.6" y="255.9" font-family="'Liberation Serif', serif" font-size="14.2" font-weight="bold" fill="#111">G4</text>
<line x1="60.1" y1="266.3" x2="71.3" y2="266.3" stroke="#e3202b" stroke-width="1.8" />
<path d="M65.6,263.2 L68.7,266.3 L65.6,269.4 L62.5,266.3 Z" fill="#e3202b"/>
<text x="76.6" y="271.4" font-family="'Liberation Serif', serif" font-size="14.2" font-weight="bold" fill="#111">G5</text>
<line x1="433.0" y1="237.6" x2="433.0" y2="431.0" stroke="#222" stroke-width="1.7" />
<line x1="432.2" y1="430.2" x2="665.0" y2="430.2" stroke="#222" stroke-width="1.7" />
<line x1="428.4" y1="430.2" x2="433.0" y2="430.2" stroke="#222" stroke-width="1.5" />
<text transform="translate(426.9,430.2) scale(1,1.12)" y="4.72" font-family="'Liberation Sans', sans-serif" font-size="13.3" font-weight="bold" text-anchor="end" fill="#222">0.0</text>
<line x1="428.4" y1="391.8" x2="433.0" y2="391.8" stroke="#222" stroke-width="1.5" />
<text transform="translate(426.9,391.8) scale(1,1.12)" y="4.72" font-family="'Liberation Sans', sans-serif" font-size="13.3" font-weight="bold" text-anchor="end" fill="#222">0.2</text>
<line x1="428.4" y1="353.4" x2="433.0" y2="353.4" stroke="#222" stroke-width="1.5" />
<text transform="translate(426.9,353.4) scale(1,1.12)" y="4.72" font-family="'Liberation Sans', sans-serif" font-size="13.3" font-weight="bold" text-anchor="end" fill="#222">0.4</text>
<line x1="428.4" y1="315.0" x2="433.0" y2="315.0" stroke="#222" stroke-width="1.5" />
<text transform="translate(426.9,315.0) scale(1,1.12)" y="4.72" font-family="'Liberation Sans', sans-serif" font-size="13.3" font-weight="bold" text-anchor="end" fill="#222">0.6</text>
<line x1="428.4" y1="276.6" x2="433.0" y2="276.6" stroke="#222" stroke-width="1.5" />
<text transform="translate(426.9,276.6) scale(1,1.12)" y="4.72" font-family="'Liberation Sans', sans-serif" font-size="13.3" font-weight="bold" text-anchor="end" fill="#222">0.8</text>
<line x1="428.4" y1="238.2" x2="433.0" y2="238.2" stroke="#222" stroke-width="1.5" />
<text transform="translate(426.9,238.2) scale(1,1.12)" y="4.72" font-family="'Liberation Sans', sans-serif" font-size="13.3" font-weight="bold" text-anchor="end" fill="#222">1.0</text>
<line x1="455.7" y1="272.6" x2="455.7" y2="275.6" stroke="#111" stroke-width="1.7" />
<line x1="447.7" y1="272.6" x2="463.7" y2="272.6" stroke="#111" stroke-width="2.1" />
<rect x="441.1" y="275.6" width="29.2" height="154.6" fill="#fff" stroke="#111" stroke-width="2"/>
<line x1="455.7" y1="430.2" x2="455.7" y2="436.0" stroke="#222" stroke-width="1.5" />
<text transform="translate(451.7,455.3) scale(1,1.17) rotate(-45)" y="4.13" font-family="'Liberation Sans', sans-serif" font-size="11.8" font-weight="bold" text-anchor="middle" fill="#222">G1</text>
<line x1="502.3" y1="357.8" x2="502.3" y2="363.0" stroke="#111" stroke-width="1.7" />
<line x1="494.3" y1="357.8" x2="510.3" y2="357.8" stroke="#111" stroke-width="2.1" />
<rect x="487.7" y="363.0" width="29.2" height="67.2" fill="#fff" stroke="#111" stroke-width="2"/>
<line x1="502.3" y1="430.2" x2="502.3" y2="436.0" stroke="#222" stroke-width="1.5" />
<text transform="translate(498.3,455.3) scale(1,1.17) rotate(-45)" y="4.13" font-family="'Liberation Sans', sans-serif" font-size="11.8" font-weight="bold" text-anchor="middle" fill="#222">G2</text>
<line x1="548.3" y1="344.6" x2="548.3" y2="352.4" stroke="#111" stroke-width="1.7" />
<line x1="540.3" y1="344.6" x2="556.3" y2="344.6" stroke="#111" stroke-width="2.1" />
<rect x="533.7" y="352.4" width="29.2" height="77.8" fill="#fff" stroke="#111" stroke-width="2"/>
<line x1="548.3" y1="430.2" x2="548.3" y2="436.0" stroke="#222" stroke-width="1.5" />
<text transform="translate(544.3,455.3) scale(1,1.17) rotate(-45)" y="4.13" font-family="'Liberation Sans', sans-serif" font-size="11.8" font-weight="bold" text-anchor="middle" fill="#222">G3</text>
<line x1="594.6" y1="354.7" x2="594.6" y2="357.2" stroke="#111" stroke-width="1.7" />
<line x1="586.6" y1="354.7" x2="602.6" y2="354.7" stroke="#111" stroke-width="2.1" />
<rect x="580.0" y="357.2" width="29.2" height="73.0" fill="#fff" stroke="#111" stroke-width="2"/>
<line x1="594.6" y1="430.2" x2="594.6" y2="436.0" stroke="#222" stroke-width="1.5" />
<text transform="translate(590.6,455.3) scale(1,1.17) rotate(-45)" y="4.13" font-family="'Liberation Sans', sans-serif" font-size="11.8" font-weight="bold" text-anchor="middle" fill="#222">G4</text>
<line x1="640.5" y1="397.6" x2="640.5" y2="399.5" stroke="#111" stroke-width="1.7" />
<line x1="632.5" y1="397.6" x2="648.5" y2="397.6" stroke="#111" stroke-width="2.1" />
<rect x="625.9" y="399.5" width="29.2" height="30.7" fill="#fff" stroke="#111" stroke-width="2"/>
<line x1="640.5" y1="430.2" x2="640.5" y2="436.0" stroke="#222" stroke-width="1.5" />
<text transform="translate(636.5,455.3) scale(1,1.17) rotate(-45)" y="4.13" font-family="'Liberation Sans', sans-serif" font-size="11.8" font-weight="bold" text-anchor="middle" fill="#222">G5</text>
<text transform="translate(401.6,332.5) rotate(-90) scale(1.24,1)" font-family="'Liberation Sans', sans-serif" font-size="12.8" font-weight="bold" text-anchor="middle" fill="#222">Tumor weight (g)</text>
<path d="M460.6,264.8 L460.6,256.8 L600,256.8 L600,273.5" fill="none" stroke="#222" stroke-width="1.7"/>
<line x1="501.5" y1="273.5" x2="650.5" y2="273.5" stroke="#222" stroke-width="1.7" />
<path d="M527.70,243.48 L529.06,245.77 L531.50,246.47 L529.91,248.57 L530.05,251.29 L527.70,250.31 L525.35,251.29 L525.49,248.57 L523.90,246.47 L526.34,245.77 Z" fill="#1a1a1a"/>
<path d="M536.50,243.48 L537.86,245.77 L540.30,246.47 L538.71,248.57 L538.85,251.29 L536.50,250.31 L534.15,251.29 L534.29,248.57 L532.70,246.47 L535.14,245.77 Z" fill="#1a1a1a"/>
<path d="M550.6,332 L550.6,318.7 L644.5,318.7 L644.5,332" fill="none" stroke="#222" stroke-width="1.7"/>
<line x1="503.8" y1="332.0" x2="592.3" y2="332.0" stroke="#222" stroke-width="1.7" />
<path d="M593.90,306.68 L595.26,308.97 L597.70,309.67 L596.11,311.77 L596.25,314.49 L593.90,313.51 L591.55,314.49 L591.69,311.77 L590.10,309.67 L592.54,308.97 Z" fill="#1a1a1a"/>
<path d="M602.70,306.68 L604.06,308.97 L606.50,309.67 L604.91,311.77 L605.05,314.49 L602.70,313.51 L600.35,314.49 L600.49,311.77 L598.90,309.67 L601.34,308.97 Z" fill="#1a1a1a"/>
<line x1="58.4" y1="531.3" x2="58.4" y2="680.7" stroke="#222" stroke-width="1.7" />
<line x1="57.6" y1="679.9" x2="285.3" y2="679.9" stroke="#222" stroke-width="1.7" />
<line x1="54.1" y1="679.9" x2="58.4" y2="679.9" stroke="#222" stroke-width="1.5" />
<text transform="translate(52.0,679.9) scale(1,1.0)" y="4.12" font-family="'Liberation Sans', sans-serif" font-size="11.6" font-weight="bold" text-anchor="end" fill="#222">0</text>
<line x1="54.1" y1="642.9" x2="58.4" y2="642.9" stroke="#222" stroke-width="1.5" />
<text transform="translate(52.0,642.9) scale(1,1.0)" y="4.12" font-family="'Liberation Sans', sans-serif" font-size="11.6" font-weight="bold" text-anchor="end" fill="#222">5</text>
<line x1="54.1" y1="606.0" x2="58.4" y2="606.0" stroke="#222" stroke-width="1.5" />
<text transform="translate(52.0,606.0) scale(1,1.0)" y="4.12" font-family="'Liberation Sans', sans-serif" font-size="11.6" font-weight="bold" text-anchor="end" fill="#222">10</text>
<line x1="54.1" y1="569.0" x2="58.4" y2="569.0" stroke="#222" stroke-width="1.5" />
<text transform="translate(52.0,569.0) scale(1,1.0)" y="4.12" font-family="'Liberation Sans', sans-serif" font-size="11.6" font-weight="bold" text-anchor="end" fill="#222">15</text>
<line x1="54.1" y1="532.0" x2="58.4" y2="532.0" stroke="#222" stroke-width="1.5" />
<text transform="translate(52.0,532.0) scale(1,1.0)" y="4.12" font-family="'Liberation Sans', sans-serif" font-size="11.6" font-weight="bold" text-anchor="end" fill="#222">20</text>
<line x1="81.2" y1="555.3" x2="81.2" y2="561.6" stroke="#111" stroke-width="1.7" />
<line x1="73.2" y1="555.3" x2="89.2" y2="555.3" stroke="#111" stroke-width="2.1" />
<rect x="66.9" y="561.6" width="28.6" height="118.3" fill="#fff" stroke="#111" stroke-width="2"/>
<line x1="81.2" y1="679.9" x2="81.2" y2="684.1" stroke="#222" stroke-width="1.5" />
<text transform="translate(77.2,699.6) scale(1,1.0) rotate(-45)" y="3.85" font-family="'Liberation Sans', sans-serif" font-size="11" font-weight="bold" text-anchor="middle" fill="#222">G1</text>
<line x1="126.3" y1="549.0" x2="126.3" y2="555.3" stroke="#111" stroke-width="1.7" />
<line x1="118.3" y1="549.0" x2="134.3" y2="549.0" stroke="#111" stroke-width="2.1" />
<rect x="112.0" y="555.3" width="28.6" height="124.6" fill="#fff" stroke="#111" stroke-width="2"/>
<line x1="126.3" y1="679.9" x2="126.3" y2="684.1" stroke="#222" stroke-width="1.5" />
<text transform="translate(122.3,699.6) scale(1,1.0) rotate(-45)" y="3.85" font-family="'Liberation Sans', sans-serif" font-size="11" font-weight="bold" text-anchor="middle" fill="#222">G2</text>
<line x1="171.2" y1="551.6" x2="171.2" y2="554.8" stroke="#111" stroke-width="1.7" />
<line x1="163.2" y1="551.6" x2="179.2" y2="551.6" stroke="#111" stroke-width="2.1" />
<rect x="156.9" y="554.8" width="28.6" height="125.1" fill="#fff" stroke="#111" stroke-width="2"/>
<line x1="171.2" y1="679.9" x2="171.2" y2="684.1" stroke="#222" stroke-width="1.5" />
<text transform="translate(167.2,699.6) scale(1,1.0) rotate(-45)" y="3.85" font-family="'Liberation Sans', sans-serif" font-size="11" font-weight="bold" text-anchor="middle" fill="#222">G3</text>
<line x1="216.5" y1="558.6" x2="216.5" y2="561.1" stroke="#111" stroke-width="1.7" />
<line x1="208.5" y1="558.6" x2="224.5" y2="558.6" stroke="#111" stroke-width="2.1" />
<rect x="202.2" y="561.1" width="28.6" height="118.8" fill="#fff" stroke="#111" stroke-width="2"/>
<line x1="216.5" y1="679.9" x2="216.5" y2="684.1" stroke="#222" stroke-width="1.5" />
<text transform="translate(212.5,699.6) scale(1,1.0) rotate(-45)" y="3.85" font-family="'Liberation Sans', sans-serif" font-size="11" font-weight="bold" text-anchor="middle" fill="#222">G4</text>
<line x1="261.6" y1="556.0" x2="261.6" y2="559.7" stroke="#111" stroke-width="1.7" />
<line x1="253.6" y1="556.0" x2="269.6" y2="556.0" stroke="#111" stroke-width="2.1" />
<rect x="247.3" y="559.7" width="28.6" height="120.2" fill="#fff" stroke="#111" stroke-width="2"/>
<line x1="261.6" y1="679.9" x2="261.6" y2="684.1" stroke="#222" stroke-width="1.5" />
<text transform="translate(257.6,699.6) scale(1,1.0) rotate(-45)" y="3.85" font-family="'Liberation Sans', sans-serif" font-size="11" font-weight="bold" text-anchor="middle" fill="#222">G5</text>
<text transform="translate(32.2,605) rotate(-90)" font-family="'Liberation Sans', sans-serif" font-size="11.9" font-weight="bold" text-anchor="middle" fill="#222">Body weight (g)</text>
<line x1="445.4" y1="532.2" x2="445.4" y2="680.5" stroke="#222" stroke-width="1.7" />
<line x1="444.6" y1="679.7" x2="664.6" y2="679.7" stroke="#222" stroke-width="1.7" />
<line x1="441.8" y1="679.7" x2="445.4" y2="679.7" stroke="#222" stroke-width="1.5" />
<text transform="translate(439.8,679.7) scale(1,1.0)" y="4.01" font-family="'Liberation Sans', sans-serif" font-size="11.3" font-weight="bold" text-anchor="end" fill="#222">0.0</text>
<line x1="441.8" y1="630.9" x2="445.4" y2="630.9" stroke="#222" stroke-width="1.5" />
<text transform="translate(439.8,630.9) scale(1,1.0)" y="4.01" font-family="'Liberation Sans', sans-serif" font-size="11.3" font-weight="bold" text-anchor="end" fill="#222">0.5</text>
<line x1="441.8" y1="582.1" x2="445.4" y2="582.1" stroke="#222" stroke-width="1.5" />
<text transform="translate(439.8,582.1) scale(1,1.0)" y="4.01" font-family="'Liberation Sans', sans-serif" font-size="11.3" font-weight="bold" text-anchor="end" fill="#222">1.0</text>
<line x1="441.8" y1="533.3" x2="445.4" y2="533.3" stroke="#222" stroke-width="1.5" />
<text transform="translate(439.8,533.3) scale(1,1.0)" y="4.01" font-family="'Liberation Sans', sans-serif" font-size="11.3" font-weight="bold" text-anchor="end" fill="#222">1.5</text>
<line x1="468.5" y1="582.1" x2="468.5" y2="582.1" stroke="#111" stroke-width="1.7" />
<line x1="460.5" y1="582.1" x2="476.5" y2="582.1" stroke="#111" stroke-width="2.1" />
<rect x="454.6" y="582.1" width="27.7" height="97.6" fill="#fff" stroke="#111" stroke-width="2"/>
<line x1="468.5" y1="679.7" x2="468.5" y2="683.9" stroke="#222" stroke-width="1.5" />
<text transform="translate(464.5,698.3) scale(1,1.0) rotate(-45)" y="3.85" font-family="'Liberation Sans', sans-serif" font-size="11" font-weight="bold" text-anchor="middle" fill="#222">G1</text>
<line x1="512.1" y1="592.2" x2="512.1" y2="598.4" stroke="#111" stroke-width="1.7" />
<line x1="504.1" y1="592.2" x2="520.1" y2="592.2" stroke="#111" stroke-width="2.1" />
<rect x="498.3" y="598.4" width="27.7" height="81.3" fill="#fff" stroke="#111" stroke-width="2"/>
<line x1="512.1" y1="679.7" x2="512.1" y2="683.9" stroke="#222" stroke-width="1.5" />
<text transform="translate(508.1,698.3) scale(1,1.0) rotate(-45)" y="3.85" font-family="'Liberation Sans', sans-serif" font-size="11" font-weight="bold" text-anchor="middle" fill="#222">G2</text>
<line x1="555.6" y1="589.9" x2="555.6" y2="593.9" stroke="#111" stroke-width="1.7" />
<line x1="547.6" y1="589.9" x2="563.6" y2="589.9" stroke="#111" stroke-width="2.1" />
<rect x="541.7" y="593.9" width="27.7" height="85.8" fill="#fff" stroke="#111" stroke-width="2"/>
<line x1="555.6" y1="679.7" x2="555.6" y2="683.9" stroke="#222" stroke-width="1.5" />
<text transform="translate(551.6,698.3) scale(1,1.0) rotate(-45)" y="3.85" font-family="'Liberation Sans', sans-serif" font-size="11" font-weight="bold" text-anchor="middle" fill="#222">G3</text>
<line x1="599.5" y1="595.8" x2="599.5" y2="597.2" stroke="#111" stroke-width="1.7" />
<line x1="591.5" y1="595.8" x2="607.5" y2="595.8" stroke="#111" stroke-width="2.1" />
<rect x="585.6" y="597.2" width="27.7" height="82.5" fill="#fff" stroke="#111" stroke-width="2"/>
<line x1="599.5" y1="679.7" x2="599.5" y2="683.9" stroke="#222" stroke-width="1.5" />
<text transform="translate(595.5,698.3) scale(1,1.0) rotate(-45)" y="3.85" font-family="'Liberation Sans', sans-serif" font-size="11" font-weight="bold" text-anchor="middle" fill="#222">G4</text>
<line x1="642.9" y1="609.2" x2="642.9" y2="611.0" stroke="#111" stroke-width="1.7" />
<line x1="634.9" y1="609.2" x2="650.9" y2="609.2" stroke="#111" stroke-width="2.1" />
<rect x="629.0" y="611.0" width="27.7" height="68.7" fill="#fff" stroke="#111" stroke-width="2"/>
<line x1="642.9" y1="679.7" x2="642.9" y2="683.9" stroke="#222" stroke-width="1.5" />
<text transform="translate(638.9,698.3) scale(1,1.0) rotate(-45)" y="3.85" font-family="'Liberation Sans', sans-serif" font-size="11" font-weight="bold" text-anchor="middle" fill="#222">G5</text>
<text transform="translate(417.2,605) rotate(-90)" font-family="'Liberation Sans', sans-serif" font-size="11.85" font-weight="bold" text-anchor="middle" fill="#222">Relative expression of STAT3 mRNA</text>
<path d="M467.6,555.9 L467.6,545 L581,545 L581,560.9" fill="none" stroke="#222" stroke-width="1.5"/>
<line x1="514.5" y1="560.9" x2="644.9" y2="560.9" stroke="#222" stroke-width="1.5" />
<path d="M515.60,535.33 L516.76,537.28 L518.83,537.87 L517.48,539.66 L517.60,541.97 L515.60,541.13 L513.60,541.97 L513.72,539.66 L512.37,537.87 L514.44,537.28 Z" fill="#1a1a1a"/>
<path d="M522.80,535.33 L523.96,537.28 L526.03,537.87 L524.68,539.66 L524.80,541.97 L522.80,541.13 L520.80,541.97 L520.92,539.66 L519.57,537.87 L521.64,537.28 Z" fill="#1a1a1a"/>
<line x1="601.5" y1="588.5" x2="640.3" y2="588.5" stroke="#222" stroke-width="1.5" />
<path d="M619.40,578.13 L620.56,580.08 L622.63,580.67 L621.28,582.46 L621.40,584.77 L619.40,583.93 L617.40,584.77 L617.52,582.46 L616.17,580.67 L618.24,580.08 Z" fill="#1a1a1a"/>
<path d="M626.60,578.13 L627.76,580.08 L629.83,580.67 L628.48,582.46 L628.60,584.77 L626.60,583.93 L624.60,584.77 L624.72,582.46 L623.37,580.67 L625.44,580.08 Z" fill="#1a1a1a"/>
<defs>
<filter id="blur3" x="-20%" y="-20%" width="140%" height="140%"><feGaussianBlur stdDeviation="3"/></filter>
<filter id="blur6" x="-30%" y="-30%" width="160%" height="160%"><feGaussianBlur stdDeviation="6"/></filter>
<filter id="blur1" x="-20%" y="-20%" width="140%" height="140%"><feGaussianBlur stdDeviation="1.2"/></filter>
<filter id="tw1" x="0" y="0" width="100%" height="100%" color-interpolation-filters="sRGB"><feTurbulence type="fractalNoise" baseFrequency="0.28" numOctaves="2" seed="3"/><feColorMatrix type="matrix" values="0 0 0 0 0.95  0 0 0 0 0.93  0 0 0 0 0.98  5.0 0 0 0 -2.6"/><feGaussianBlur stdDeviation="0.7"/></filter>
<filter id="td1" x="0" y="0" width="100%" height="100%" color-interpolation-filters="sRGB"><feTurbulence type="fractalNoise" baseFrequency="0.28" numOctaves="2" seed="9"/><feColorMatrix type="matrix" values="0 0 0 0 0.36  0 0 0 0 0.31  0 0 0 0 0.64  5.0 0 0 0 -2.6"/><feGaussianBlur stdDeviation="0.7"/></filter>
<filter id="tw2" x="0" y="0" width="100%" height="100%" color-interpolation-filters="sRGB"><feTurbulence type="fractalNoise" baseFrequency="0.25" numOctaves="2" seed="5"/><feColorMatrix type="matrix" values="0 0 0 0 0.96  0 0 0 0 0.92  0 0 0 0 0.97  5.0 0 0 0 -2.6"/><feGaussianBlur stdDeviation="0.7"/></filter>
<filter id="td2" x="0" y="0" width="100%" height="100%" color-interpolation-filters="sRGB"><feTurbulence type="fractalNoise" baseFrequency="0.28" numOctaves="2" seed="13"/><feColorMatrix type="matrix" values="0 0 0 0 0.45  0 0 0 0 0.3  0 0 0 0 0.62  5.0 0 0 0 -2.6"/><feGaussianBlur stdDeviation="0.7"/></filter>
<filter id="tw3" x="0" y="0" width="100%" height="100%" color-interpolation-filters="sRGB"><feTurbulence type="fractalNoise" baseFrequency="0.22" numOctaves="2" seed="17"/><feColorMatrix type="matrix" values="0 0 0 0 0.92  0 0 0 0 0.91  0 0 0 0 0.96  4.0 0 0 0 -2.1"/><feGaussianBlur stdDeviation="0.7"/></filter>
<filter id="td3" x="0" y="0" width="100%" height="100%" color-interpolation-filters="sRGB"><feTurbulence type="fractalNoise" baseFrequency="0.22" numOctaves="2" seed="21"/><feColorMatrix type="matrix" values="0 0 0 0 0.5  0 0 0 0 0.48  0 0 0 0 0.72  4.0 0 0 0 -2.1"/><feGaussianBlur stdDeviation="0.7"/></filter>
<clipPath id="cf1"><rect x="3.5" y="753.4" width="133.3" height="147.9"/></clipPath>
<clipPath id="cf2"><rect x="139.9" y="753.4" width="133.9" height="147.9"/></clipPath>
<clipPath id="cf3"><rect x="276.9" y="753.4" width="130" height="147.9"/></clipPath>
<clipPath id="cf4"><rect x="410.1" y="753.4" width="133.5" height="147.9"/></clipPath>
<clipPath id="cf5"><rect x="547.2" y="753.4" width="133.2" height="147.9"/></clipPath>
<filter id="jag" x="-10%" y="-10%" width="120%" height="120%"><feTurbulence type="fractalNoise" baseFrequency="0.15" numOctaves="2" seed="4" result="n"/><feDisplacementMap in="SourceGraphic" in2="n" scale="4" xChannelSelector="R" yChannelSelector="G"/><feGaussianBlur stdDeviation="0.4"/></filter>
</defs>
<g clip-path="url(#cf1)">
<rect x="3.5" y="753.3" width="133.5" height="148.2" fill="#8e8ac6"/>
<path d="M55.0,856.0 C59.2,845.2 68.3,841.0 75.0,840.0 C81.7,839.0 92.2,839.2 95.0,850.0 C97.8,860.8 99.5,895.8 92.0,905.0 C84.5,914.2 56.2,913.2 50.0,905.0 C43.8,896.8 50.8,866.8 55.0,856.0 Z" fill="#a7a3d4" filter="url(#blur6)" opacity="1.0"/>
<path d="M5.0,800.0 C8.3,789.3 25.0,789.3 30.0,796.0 C35.0,802.7 38.3,829.3 35.0,840.0 C31.7,850.7 15.0,866.7 10.0,860.0 C5.0,853.3 1.7,810.7 5.0,800.0 Z" fill="#8680c0" filter="url(#blur6)" opacity="1.0"/>
<rect x="3.5" y="753.3" width="133.5" height="148.2" filter="url(#tw1)" opacity="0.5"/>
<rect x="3.5" y="753.3" width="133.5" height="148.2" filter="url(#td1)" opacity="0.55"/>
<path d="M20.0,752.0 C28.0,749.8 58.0,750.3 68.0,752.0 C78.0,753.7 76.0,759.3 80.0,762.0 C84.0,764.7 88.7,765.8 92.0,768.0 C95.3,770.2 97.3,772.7 100.0,775.0 C102.7,777.3 108.8,780.0 108.0,782.0 C107.2,784.0 101.0,786.3 95.0,787.0 C89.0,787.7 79.3,786.2 72.0,786.0 C64.7,785.8 57.8,785.0 51.0,786.0 C44.2,787.0 37.0,789.5 31.0,792.0 C25.0,794.5 18.3,801.3 15.0,801.0 C11.7,800.7 9.8,794.2 11.0,790.0 C12.2,785.8 20.5,780.2 22.0,776.0 C23.5,771.8 20.3,769.0 20.0,765.0 C19.7,761.0 12.0,754.2 20.0,752.0 Z" fill="#dc9cc4" filter="url(#blur3)" opacity="0.72"/>
<path d="M26.0,752.0 C32.3,750.0 56.7,750.0 66.0,752.0 C75.3,754.0 81.3,761.3 82.0,764.0 C82.7,766.7 76.2,767.7 70.0,768.0 C63.8,768.3 52.0,766.7 45.0,766.0 C38.0,765.3 31.2,766.3 28.0,764.0 C24.8,761.7 19.7,754.0 26.0,752.0 Z" fill="#efcfdc" filter="url(#blur3)" opacity="0.75"/>
<g filter="url(#jag)">
<path d="M20,795 C40,784 60,780 80,778" fill="none" stroke="#e27aae" stroke-width="2.2" stroke-linecap="round" opacity="0.6"/>
<path d="M30,785 C50,776 65,770 85,772" fill="none" stroke="#e27aae" stroke-width="2.2" stroke-linecap="round" opacity="0.6"/>
<path d="M40,790 C60,784 80,784 100,780" fill="none" stroke="#e27aae" stroke-width="2.2" stroke-linecap="round" opacity="0.6"/>
</g>
<path d="M68.0,748.0 C78.3,746.0 129.7,733.7 142.0,748.0 C154.3,762.3 143.3,822.3 142.0,834.0 C140.7,845.7 137.0,823.5 134.0,818.0 C131.0,812.5 128.0,806.5 124.0,801.0 C120.0,795.5 115.2,790.5 110.0,785.0 C104.8,779.5 98.0,772.2 93.0,768.0 C88.0,763.8 84.2,763.3 80.0,760.0 C75.8,756.7 57.7,750.0 68.0,748.0 Z" fill="#dddddb" filter="url(#blur1)" opacity="1.0"/>
<path d="M75,756 C95,766 115,782 128,800 C133,810 136,818 137,826" fill="none" stroke="#b4b2cc" stroke-width="1.2" opacity="0.6" filter="url(#jag)"/>
</g>
<text transform="translate(3.0,901) scale(0.74,1)" font-family="'Liberation Sans', sans-serif" font-size="22" fill="#000">G1</text>
<line x1="111.4" y1="891.8" x2="131.5" y2="891.8" stroke="#111" stroke-width="1.9"/>
<text x="121.5" y="888.5" font-family="'Liberation Sans', sans-serif" font-size="5.5" text-anchor="middle" fill="#333">200 &#956;m</text>
<g clip-path="url(#cf2)">
<rect x="139.5" y="753.3" width="134.4" height="148.2" fill="#a386c4"/>
<path d="M192.0,815.0 C193.7,810.0 198.2,802.5 200.0,805.0 C201.8,807.5 203.7,823.3 203.0,830.0 C202.3,836.7 198.2,844.2 196.0,845.0 C193.8,845.8 190.7,840.0 190.0,835.0 C189.3,830.0 190.3,820.0 192.0,815.0 Z" fill="#d6a2cc" filter="url(#blur3)" opacity="1.0"/>
<path d="M150.0,840.0 C151.7,837.2 158.0,836.0 160.0,838.0 C162.0,840.0 163.7,849.2 162.0,852.0 C160.3,854.8 152.0,857.0 150.0,855.0 C148.0,853.0 148.3,842.8 150.0,840.0 Z" fill="#d2a6cc" filter="url(#blur3)" opacity="1.0"/>
</g>
<g clip-path="url(#cf2)"><g filter="url(#jag)">
<path d="M141.1,788.8 L147.2,797.0 L153.3,811.3 L159.5,823.6 L167.7,831.7 L177.9,848.1 L186.0,864.4" fill="none" stroke="#f6f0f8" stroke-width="2.2" stroke-linejoin="round" stroke-linecap="round" opacity="0.85"/>
<path d="M194.2,756.1 L198.3,766.3 L202.4,780.7 L204.4,795.0" fill="none" stroke="#f6f0f8" stroke-width="2.2" stroke-linejoin="round" stroke-linecap="round" opacity="0.85"/>
<path d="M231.0,758.2 L233.1,774.5 L229.0,790.9 L224.9,811.3 L218.7,827.7 L216.7,842.0" fill="none" stroke="#f6f0f8" stroke-width="2.2" stroke-linejoin="round" stroke-linecap="round" opacity="0.85"/>
<path d="M243.3,756.1 L247.4,766.3 L243.3,780.7 L239.2,795.0" fill="none" stroke="#f6f0f8" stroke-width="2.2" stroke-linejoin="round" stroke-linecap="round" opacity="0.85"/>
<path d="M276.0,817.4 L259.6,827.7 L247.4,835.8 L233.1,844.0 L218.7,852.2 L210.6,856.3" fill="none" stroke="#f6f0f8" stroke-width="2.2" stroke-linejoin="round" stroke-linecap="round" opacity="0.85"/>
<path d="M276.0,846.1 L259.6,856.3 L243.3,864.4 L229.0,872.6" fill="none" stroke="#f6f0f8" stroke-width="2.2" stroke-linejoin="round" stroke-linecap="round" opacity="0.85"/>
<path d="M263.7,880.8 L243.3,882.8 L224.9,884.9 L214.7,891.0" fill="none" stroke="#f6f0f8" stroke-width="2.2" stroke-linejoin="round" stroke-linecap="round" opacity="0.85"/>
<path d="M145.2,835.8 L161.5,837.9 L171.7,844.0" fill="none" stroke="#f6f0f8" stroke-width="2.2" stroke-linejoin="round" stroke-linecap="round" opacity="0.85"/>
<path d="M157.4,864.4 L173.8,868.5 L182.0,880.8" fill="none" stroke="#f6f0f8" stroke-width="2.2" stroke-linejoin="round" stroke-linecap="round" opacity="0.85"/>
<path d="M169.7,797.0 L177.9,803.1 L184.0,811.3" fill="none" stroke="#f6f0f8" stroke-width="2.2" stroke-linejoin="round" stroke-linecap="round" opacity="0.85"/>
<path d="M251.4,790.9 L259.6,803.1 L267.8,811.3" fill="none" stroke="#f6f0f8" stroke-width="2.2" stroke-linejoin="round" stroke-linecap="round" opacity="0.85"/>
<path d="M141.1,872.6 L153.3,876.7 L159.5,893.1" fill="none" stroke="#f6f0f8" stroke-width="2.2" stroke-linejoin="round" stroke-linecap="round" opacity="0.85"/>
</g>
<path d="M165.0,810.0 C170.8,804.2 189.2,798.3 195.0,805.0 C200.8,811.7 203.3,841.7 200.0,850.0 C196.7,858.3 181.7,856.7 175.0,855.0 C168.3,853.3 161.7,847.5 160.0,840.0 C158.3,832.5 159.2,815.8 165.0,810.0 Z" fill="#c49ccc" filter="url(#blur6)" opacity="0.8"/>
<path d="M156.4,756.1 C162.7,753.6 185.9,754.8 192.2,755.1 C198.5,755.5 194.4,756.0 194.2,758.2 C194.0,760.4 192.2,765.0 191.2,768.4 C190.2,771.8 189.5,775.4 188.1,778.6 C186.7,781.8 184.5,785.8 183.0,787.8 C181.5,789.8 180.1,791.2 178.9,790.9 C177.7,790.6 177.3,786.8 175.8,785.8 C174.3,784.8 171.4,784.4 169.7,784.7 C168.0,785.0 167.1,786.9 165.6,787.8 C164.1,788.7 161.9,790.8 160.5,789.9 C159.1,789.0 158.4,786.0 157.4,782.7 C156.4,779.5 154.6,774.8 154.4,770.4 C154.2,766.0 150.1,758.6 156.4,756.1 Z" fill="#e4b2d0" filter="url(#blur1)"/>
<path d="M160.0,758.0 C164.7,755.5 183.7,754.7 188.0,757.0 C192.3,759.3 188.7,768.5 186.0,772.0 C183.3,775.5 176.3,778.0 172.0,778.0 C167.7,778.0 162.0,775.3 160.0,772.0 C158.0,768.7 155.3,760.5 160.0,758.0 Z" fill="#f2dfe8" filter="url(#blur3)" opacity="1.0"/>
<path d="M232.0,769.4 C232.0,770.4 228.4,776.8 226.9,780.7 C225.4,784.6 224.2,789.2 222.8,792.9 C221.4,796.6 219.7,799.0 218.7,803.1 C217.7,807.2 217.7,812.0 216.7,817.4 C215.7,822.8 213.8,830.0 212.6,835.8 C211.4,841.6 209.9,847.4 209.6,852.2 C209.3,857.0 209.9,860.3 210.6,864.4 C211.3,868.5 213.3,873.0 213.6,876.7 C213.9,880.5 213.8,884.5 212.6,886.9 C211.4,889.3 208.9,890.6 206.5,891.0 C204.1,891.4 200.0,890.0 198.3,889.0 C196.6,888.0 197.7,884.7 196.3,884.9 C194.9,885.1 191.8,889.7 190.1,890.0 C188.4,890.3 186.8,889.4 186.0,886.9 C185.2,884.4 184.3,878.5 185.0,874.7 C185.7,871.0 187.9,867.5 190.1,864.4 C192.3,861.3 196.2,859.0 198.3,856.3 C200.4,853.6 201.4,851.5 202.4,848.1 C203.4,844.7 203.7,840.2 204.4,835.8 C205.1,831.4 205.8,826.3 206.5,821.5 C207.2,816.7 207.7,812.3 208.5,807.2 C209.3,802.1 210.4,794.8 211.6,790.9 C212.8,787.0 214.2,784.6 215.7,783.7 C217.2,782.9 218.9,787.3 220.8,785.8 C222.7,784.3 225.0,777.2 226.9,774.5 C228.8,771.8 232.0,768.4 232.0,769.4 Z" fill="#dd96c2" filter="url(#blur1)"/>
<path d="M251.4,756.1 C253.3,755.9 256.9,760.7 259.6,761.2 C262.3,761.7 265.8,759.4 267.8,759.2 C269.9,759.0 271.9,758.3 271.9,760.2 C271.9,762.1 268.8,767.0 267.8,770.4 C266.8,773.8 266.0,776.6 265.8,780.7 C265.6,784.8 267.2,791.1 266.8,795.0 C266.4,798.9 265.1,802.2 263.7,804.2 C262.3,806.2 260.3,807.4 258.6,807.2 C256.9,807.0 254.9,805.8 253.5,803.1 C252.1,800.4 251.6,794.6 250.4,790.9 C249.2,787.2 247.2,784.1 246.3,780.7 C245.5,777.3 245.0,773.5 245.3,770.4 C245.7,767.3 247.4,764.7 248.4,762.3 C249.4,759.9 249.5,756.3 251.4,756.1 Z" fill="#c6a0cf" filter="url(#blur1)"/>
<rect x="139.5" y="753.3" width="134.4" height="148.2" filter="url(#tw2)" opacity="0.45"/>
<rect x="139.5" y="753.3" width="134.4" height="148.2" filter="url(#td2)" opacity="0.5"/>
</g>
<path d="M156.4,756.1 C162.7,753.6 185.9,754.8 192.2,755.1 C198.5,755.5 194.4,756.0 194.2,758.2 C194.0,760.4 192.2,765.0 191.2,768.4 C190.2,771.8 189.5,775.4 188.1,778.6 C186.7,781.8 184.5,785.8 183.0,787.8 C181.5,789.8 180.1,791.2 178.9,790.9 C177.7,790.6 177.3,786.8 175.8,785.8 C174.3,784.8 171.4,784.4 169.7,784.7 C168.0,785.0 167.1,786.9 165.6,787.8 C164.1,788.7 161.9,790.8 160.5,789.9 C159.1,789.0 158.4,786.0 157.4,782.7 C156.4,779.5 154.6,774.8 154.4,770.4 C154.2,766.0 150.1,758.6 156.4,756.1 Z" fill="none" stroke="#221b26" stroke-width="1.9" stroke-dasharray="3.9 3.0"/>
<path d="M232.0,769.4 C232.0,770.4 228.4,776.8 226.9,780.7 C225.4,784.6 224.2,789.2 222.8,792.9 C221.4,796.6 219.7,799.0 218.7,803.1 C217.7,807.2 217.7,812.0 216.7,817.4 C215.7,822.8 213.8,830.0 212.6,835.8 C211.4,841.6 209.9,847.4 209.6,852.2 C209.3,857.0 209.9,860.3 210.6,864.4 C211.3,868.5 213.3,873.0 213.6,876.7 C213.9,880.5 213.8,884.5 212.6,886.9 C211.4,889.3 208.9,890.6 206.5,891.0 C204.1,891.4 200.0,890.0 198.3,889.0 C196.6,888.0 197.7,884.7 196.3,884.9 C194.9,885.1 191.8,889.7 190.1,890.0 C188.4,890.3 186.8,889.4 186.0,886.9 C185.2,884.4 184.3,878.5 185.0,874.7 C185.7,871.0 187.9,867.5 190.1,864.4 C192.3,861.3 196.2,859.0 198.3,856.3 C200.4,853.6 201.4,851.5 202.4,848.1 C203.4,844.7 203.7,840.2 204.4,835.8 C205.1,831.4 205.8,826.3 206.5,821.5 C207.2,816.7 207.7,812.3 208.5,807.2 C209.3,802.1 210.4,794.8 211.6,790.9 C212.8,787.0 214.2,784.6 215.7,783.7 C217.2,782.9 218.9,787.3 220.8,785.8 C222.7,784.3 225.0,777.2 226.9,774.5 C228.8,771.8 232.0,768.4 232.0,769.4 Z" fill="none" stroke="#221b26" stroke-width="1.9" stroke-dasharray="3.9 3.0"/>
<path d="M251.4,756.1 C253.3,755.9 256.9,760.7 259.6,761.2 C262.3,761.7 265.8,759.4 267.8,759.2 C269.9,759.0 271.9,758.3 271.9,760.2 C271.9,762.1 268.8,767.0 267.8,770.4 C266.8,773.8 266.0,776.6 265.8,780.7 C265.6,784.8 267.2,791.1 266.8,795.0 C266.4,798.9 265.1,802.2 263.7,804.2 C262.3,806.2 260.3,807.4 258.6,807.2 C256.9,807.0 254.9,805.8 253.5,803.1 C252.1,800.4 251.6,794.6 250.4,790.9 C249.2,787.2 247.2,784.1 246.3,780.7 C245.5,777.3 245.0,773.5 245.3,770.4 C245.7,767.3 247.4,764.7 248.4,762.3 C249.4,759.9 249.5,756.3 251.4,756.1 Z" fill="none" stroke="#221b26" stroke-width="1.9" stroke-dasharray="3.9 3.0"/>
<text transform="translate(140.3,901) scale(0.74,1)" font-family="'Liberation Sans', sans-serif" font-size="22" fill="#000">G2</text>
<line x1="248.4" y1="891.8" x2="267.8" y2="891.8" stroke="#111" stroke-width="1.9"/>
<text x="258.1" y="888.5" font-family="'Liberation Sans', sans-serif" font-size="5.5" text-anchor="middle" fill="#333">200 &#956;m</text>
<g clip-path="url(#cf3)">
<rect x="277" y="753.3" width="130" height="148.2" fill="#b0aed7"/>
<rect x="276" y="753.6" width="8" height="148" fill="#c4a4c8" filter="url(#blur3)"/>
<path d="M375.0,752.0 C379.0,750.3 404.2,748.2 410.0,752.0 C415.8,755.8 412.0,772.0 410.0,775.0 C408.0,778.0 402.0,772.2 398.0,770.0 C394.0,767.8 389.8,765.0 386.0,762.0 C382.2,759.0 371.0,753.7 375.0,752.0 Z" fill="#ecebef" filter="url(#blur1)" opacity="1.0"/>
<path d="M290.0,790.0 C295.0,773.3 310.0,770.0 315.0,780.0 C320.0,790.0 322.5,830.0 320.0,850.0 C317.5,870.0 305.8,895.0 300.0,900.0 C294.2,905.0 286.7,898.3 285.0,880.0 C283.3,861.7 285.0,806.7 290.0,790.0 Z" fill="#bcbadc" filter="url(#blur6)" opacity="1.0"/>
<path d="M365.0,800.0 C370.8,781.7 398.3,773.3 405.0,790.0 C411.7,806.7 410.8,881.7 405.0,900.0 C399.2,918.3 376.7,916.7 370.0,900.0 C363.3,883.3 359.2,818.3 365.0,800.0 Z" fill="#a3a2d0" filter="url(#blur6)" opacity="1.0"/>
<path d="M322.1,754.9 C324.2,753.0 329.1,753.7 332.0,753.7 C334.9,753.7 337.1,753.5 339.4,754.9 C341.7,756.3 343.5,759.4 345.6,762.3 C347.7,765.2 349.7,768.1 351.8,772.3 C353.9,776.4 356.8,782.2 358.0,787.2 C359.2,792.2 359.9,797.9 359.3,802.0 C358.7,806.1 356.8,809.5 354.3,812.0 C351.8,814.5 346.7,814.9 344.4,817.0 C342.1,819.1 341.5,820.7 340.7,824.4 C339.9,828.1 340.2,834.3 339.4,839.3 C338.6,844.3 336.9,849.2 335.7,854.2 C334.5,859.2 333.2,867.8 332.0,869.0 C330.8,870.2 329.6,865.7 328.3,861.6 C327.1,857.5 325.5,850.0 324.5,844.2 C323.5,838.4 322.9,832.7 322.1,826.9 C321.3,821.1 320.4,814.9 319.6,809.5 C318.8,804.1 317.5,798.3 317.1,794.6 C316.7,790.9 316.7,790.1 317.1,787.2 C317.5,784.3 319.2,780.9 319.6,777.2 C320.0,773.5 319.2,768.5 319.6,764.8 C320.0,761.1 320.0,756.8 322.1,754.9 Z" fill="#dcc4de" filter="url(#blur1)"/>
<rect x="277" y="753.3" width="130" height="148.2" filter="url(#tw3)" opacity="0.3"/>
<rect x="277" y="753.3" width="130" height="148.2" filter="url(#td3)" opacity="0.4"/>
</g>
<path d="M322.1,754.9 C324.2,753.0 329.1,753.7 332.0,753.7 C334.9,753.7 337.1,753.5 339.4,754.9 C341.7,756.3 343.5,759.4 345.6,762.3 C347.7,765.2 349.7,768.1 351.8,772.3 C353.9,776.4 356.8,782.2 358.0,787.2 C359.2,792.2 359.9,797.9 359.3,802.0 C358.7,806.1 356.8,809.5 354.3,812.0 C351.8,814.5 346.7,814.9 344.4,817.0 C342.1,819.1 341.5,820.7 340.7,824.4 C339.9,828.1 340.2,834.3 339.4,839.3 C338.6,844.3 336.9,849.2 335.7,854.2 C334.5,859.2 333.2,867.8 332.0,869.0 C330.8,870.2 329.6,865.7 328.3,861.6 C327.1,857.5 325.5,850.0 324.5,844.2 C323.5,838.4 322.9,832.7 322.1,826.9 C321.3,821.1 320.4,814.9 319.6,809.5 C318.8,804.1 317.5,798.3 317.1,794.6 C316.7,790.9 316.7,790.1 317.1,787.2 C317.5,784.3 319.2,780.9 319.6,777.2 C320.0,773.5 319.2,768.5 319.6,764.8 C320.0,761.1 320.0,756.8 322.1,754.9 Z" fill="none" stroke="#221b26" stroke-width="1.9" stroke-dasharray="3.9 3.0"/>
<path d="M335.5,756 L339,772" stroke="#1a1a1a" stroke-width="1.5" stroke-dasharray="3 2"/>
<text transform="translate(276.5,901) scale(0.74,1)" font-family="'Liberation Sans', sans-serif" font-size="22" fill="#000">G3</text>
<line x1="384" y1="891.8" x2="404" y2="891.8" stroke="#111" stroke-width="1.9"/>
<text x="394.0" y="888.5" font-family="'Liberation Sans', sans-serif" font-size="5.5" text-anchor="middle" fill="#333">200 &#956;m</text>
<g clip-path="url(#cf4)">
<rect x="409.8" y="753.3" width="134.3" height="148.2" fill="#a796cb"/>
<path d="M412.0,790.0 C416.3,778.3 433.3,780.0 438.0,790.0 C442.7,800.0 444.3,838.3 440.0,850.0 C435.7,861.7 416.7,870.0 412.0,860.0 C407.3,850.0 407.7,801.7 412.0,790.0 Z" fill="#9c8cc6" filter="url(#blur6)" opacity="1.0"/>
<path d="M445.0,810.0 C454.5,803.5 484.2,799.3 495.0,806.0 C505.8,812.7 510.0,836.8 510.0,850.0 C510.0,863.2 505.0,879.2 495.0,885.0 C485.0,890.8 459.5,891.7 450.0,885.0 C440.5,878.3 438.8,857.5 438.0,845.0 C437.2,832.5 435.5,816.5 445.0,810.0 Z" fill="#caa8d6" filter="url(#blur6)" opacity="1.0"/>
<path d="M452.0,782.0 C456.5,778.2 476.5,776.5 482.0,782.0 C487.5,787.5 487.8,807.3 485.0,815.0 C482.2,822.7 470.0,829.7 465.0,828.0 C460.0,826.3 457.2,812.7 455.0,805.0 C452.8,797.3 447.5,785.8 452.0,782.0 Z" fill="#ccb6dc" filter="url(#blur6)" opacity="1.0"/>
<path d="M440.0,856.0 C454.3,852.3 508.0,855.3 522.0,858.0 C536.0,860.7 531.0,868.0 524.0,872.0 C517.0,876.0 494.7,880.7 480.0,882.0 C465.3,883.3 442.7,884.3 436.0,880.0 C429.3,875.7 425.7,859.7 440.0,856.0 Z" fill="#d2b2da" filter="url(#blur6)" opacity="1.0"/>
<path d="M505.0,790.0 C509.8,770.8 537.5,766.7 544.0,785.0 C550.5,803.3 548.8,880.8 544.0,900.0 C539.2,919.2 521.5,918.3 515.0,900.0 C508.5,881.7 500.2,809.2 505.0,790.0 Z" fill="#a092c8" filter="url(#blur6)" opacity="1.0"/>
<rect x="409.8" y="753.3" width="134.3" height="148.2" filter="url(#tw3)" opacity="0.25"/>
<rect x="409.8" y="753.3" width="134.3" height="148.2" filter="url(#td2)" opacity="0.35"/>
<path d="M410.0,752.0 C425.8,748.2 489.2,749.3 505.0,752.0 C520.8,754.7 508.3,763.7 505.0,768.0 C501.7,772.3 493.3,776.7 485.0,778.0 C476.7,779.3 464.2,776.3 455.0,776.0 C445.8,775.7 437.5,776.2 430.0,776.0 C422.5,775.8 413.3,779.0 410.0,775.0 C406.7,771.0 394.2,755.8 410.0,752.0 Z" fill="#e2deea" filter="url(#blur3)" opacity="0.85"/>
<path d="M425.0,752.0 C435.8,749.7 483.8,749.3 495.0,752.0 C506.2,754.7 497.8,765.0 492.0,768.0 C486.2,771.0 470.3,770.3 460.0,770.0 C449.7,769.7 435.8,769.0 430.0,766.0 C424.2,763.0 414.2,754.3 425.0,752.0 Z" fill="#f4f2f6" filter="url(#blur3)" opacity="0.9"/>
<path d="M440.0,752.0 C446.7,750.0 482.0,750.3 490.0,752.0 C498.0,753.7 494.7,760.0 488.0,762.0 C481.3,764.0 458.0,765.7 450.0,764.0 C442.0,762.3 433.3,754.0 440.0,752.0 Z" fill="#fafafa" filter="url(#blur3)" opacity="1.0"/>
<path d="M494,752 C490,765 487,778 484,792" fill="none" stroke="#f0eef4" stroke-width="4" filter="url(#blur1)"/>
<path d="M505,770 C520,764 532,760 544,758" fill="none" stroke="#dcd6e8" stroke-width="3" filter="url(#blur1)" opacity="0.8"/>
<path d="M405,903 C416,895 428,887 448,879" fill="none" stroke="#f6f4f8" stroke-width="6" filter="url(#blur1)"/>
<path d="M410.0,890.0 C413.3,886.8 425.7,881.8 430.0,884.0 C434.3,886.2 439.3,899.8 436.0,903.0 C432.7,906.2 414.3,905.2 410.0,903.0 C405.7,900.8 406.7,893.2 410.0,890.0 Z" fill="#f2f0f4" filter="url(#blur1)" opacity="1.0"/>
</g>
<path d="M444.8,778.6 C446.0,777.1 451.1,777.3 454.0,776.6 C456.9,775.9 459.1,774.3 462.2,774.5 C465.3,774.7 469.2,776.1 472.4,777.6 C475.6,779.1 479.6,781.2 481.6,783.7 C483.7,786.2 483.9,789.7 484.7,792.9 C485.5,796.1 486.2,799.4 486.7,803.1 C487.2,806.9 488.2,812.8 487.7,815.4 C487.2,818.0 485.8,817.6 483.6,818.5 C481.4,819.4 476.9,819.0 474.4,820.5 C471.8,822.0 470.2,825.5 468.3,827.7 C466.4,829.9 464.2,834.5 463.2,833.8 C462.2,833.1 462.7,827.4 462.2,823.6 C461.7,819.9 461.1,815.0 460.1,811.3 C459.1,807.5 457.6,804.2 456.1,801.1 C454.6,798.0 452.4,795.5 450.9,792.9 C449.4,790.3 447.9,788.2 446.9,785.8 C445.9,783.4 443.6,780.1 444.8,778.6 Z" fill="none" stroke="#221b26" stroke-width="1.9" stroke-dasharray="3.9 3.0"/>
<path d="M438.7,848.1 C439.0,847.1 435.1,853.4 436.6,854.2 C438.1,855.1 444.0,852.9 447.9,853.2 C451.8,853.6 456.0,855.3 460.1,856.3 C464.2,857.3 467.6,859.0 472.4,859.3 C477.2,859.6 483.9,859.3 488.7,858.3 C493.5,857.3 497.2,853.9 501.0,853.2 C504.8,852.5 507.8,853.0 511.2,854.2 C514.6,855.4 519.0,858.7 521.4,860.4 C523.8,862.1 525.5,862.4 525.5,864.4 C525.5,866.4 524.1,870.4 521.4,872.6 C518.7,874.8 513.3,876.3 509.2,877.7 C505.1,879.1 501.0,879.9 496.9,880.8 C492.8,881.6 488.8,882.8 484.7,882.8 C480.6,882.8 475.3,882.1 472.4,880.8 C469.5,879.4 469.0,875.9 467.3,874.7 C465.6,873.5 464.1,873.4 462.2,873.6 C460.3,873.8 458.5,874.8 456.1,875.7 C453.7,876.6 450.6,877.9 447.9,878.8 C445.2,879.6 442.3,880.1 439.7,880.8 C437.1,881.5 433.5,884.5 432.5,882.8 C431.5,881.1 433.2,874.3 433.6,870.6 C434.0,866.9 433.8,864.1 434.6,860.4 C435.5,856.6 438.4,849.1 438.7,848.1 Z" fill="none" stroke="#221b26" stroke-width="1.9" stroke-dasharray="3.9 3.0"/>
<text transform="translate(410.3,901) scale(0.74,1)" font-family="'Liberation Sans', sans-serif" font-size="22" fill="#000">G4</text>
<line x1="518" y1="891.8" x2="538" y2="891.8" stroke="#111" stroke-width="1.9"/>
<text x="528.0" y="888.5" font-family="'Liberation Sans', sans-serif" font-size="5.5" text-anchor="middle" fill="#333">200 &#956;m</text>
<g clip-path="url(#cf5)">
<rect x="546.4" y="753.3" width="136" height="148.2" fill="#dcdcdc"/>
<path d="M544.0,750.0 C556.0,741.3 604.2,747.0 616.0,750.0 C627.8,753.0 617.7,763.3 615.0,768.0 C612.3,772.7 605.8,775.0 600.0,778.0 C594.2,781.0 586.7,783.0 580.0,786.0 C573.3,789.0 566.0,793.3 560.0,796.0 C554.0,798.7 546.7,809.7 544.0,802.0 C541.3,794.3 532.0,758.7 544.0,750.0 Z" fill="#b6b6d8" filter="url(#blur3)" opacity="1.0"/>
<path d="M544.0,822.0 C546.7,811.3 555.0,814.3 560.0,816.0 C565.0,817.7 571.0,823.7 574.0,832.0 C577.0,840.3 578.7,857.3 578.0,866.0 C577.3,874.7 575.7,881.7 570.0,884.0 C564.3,886.3 548.3,890.3 544.0,880.0 C539.7,869.7 541.3,832.7 544.0,822.0 Z" fill="#babad8" filter="url(#blur3)" opacity="1.0"/>
<path d="M565.0,850.0 C566.7,843.8 575.2,840.7 578.0,845.0 C580.8,849.3 583.7,869.8 582.0,876.0 C580.3,882.2 570.8,886.3 568.0,882.0 C565.2,877.7 563.3,856.2 565.0,850.0 Z" fill="#9494ca" filter="url(#blur1)" opacity="1.0"/>
<path d="M575.0,882.0 C580.8,876.3 602.2,868.0 610.0,872.0 C617.8,876.0 627.8,900.3 622.0,906.0 C616.2,911.7 582.8,910.0 575.0,906.0 C567.2,902.0 569.2,887.7 575.0,882.0 Z" fill="#acacd4" filter="url(#blur3)" opacity="1.0"/>
<path d="M655.0,750.0 C659.3,741.7 680.8,724.0 686.0,750.0 C691.2,776.0 696.3,880.0 686.0,906.0 C675.7,932.0 631.7,913.3 624.0,906.0 C616.3,898.7 634.0,872.7 640.0,862.0 C646.0,851.3 656.7,852.3 660.0,842.0 C663.3,831.7 660.8,815.3 660.0,800.0 C659.2,784.7 650.7,758.3 655.0,750.0 Z" fill="#c2c2de" filter="url(#blur3)" opacity="1.0"/>
<path d="M548.0,775.0 C550.5,769.5 561.7,767.8 565.0,772.0 C568.3,776.2 570.5,794.5 568.0,800.0 C565.5,805.5 553.3,809.2 550.0,805.0 C546.7,800.8 545.5,780.5 548.0,775.0 Z" fill="#9e9ed0" filter="url(#blur3)" opacity="1.0"/>
<path d="M618.6,758.2 C621.1,756.5 626.0,756.5 630.8,756.1 C635.6,755.7 641.2,755.5 647.2,755.7 C653.2,755.9 663.0,755.4 666.6,757.2 C670.2,759.0 668.3,760.7 668.6,766.3 C668.9,771.9 669.8,787.6 668.6,790.9 C667.4,794.1 663.4,784.8 661.5,785.8 C659.6,786.8 657.9,792.1 657.4,797.0 C656.9,801.9 657.7,808.9 658.4,815.4 C659.1,821.9 662.4,831.7 661.5,835.8 C660.6,839.9 656.0,838.5 653.3,839.9 C650.6,841.3 647.3,841.3 645.1,844.0 C642.9,846.7 642.0,851.9 640.0,856.3 C638.0,860.7 635.1,865.8 632.9,870.6 C630.7,875.4 628.4,880.5 626.7,884.9 C625.0,889.3 623.7,894.0 622.7,897.1 C621.7,900.2 621.5,904.6 620.6,903.3 C619.8,901.9 619.3,893.4 617.6,889.0 C615.9,884.6 612.3,880.8 610.4,876.7 C608.5,872.6 607.0,870.2 606.3,864.4 C605.6,858.6 606.1,848.1 606.3,842.0 C606.5,835.9 605.9,831.5 607.3,827.7 C608.7,824.0 613.6,822.2 614.5,819.5 C615.4,816.8 613.8,814.7 612.4,811.3 C611.0,807.9 608.3,802.4 606.3,799.0 C604.3,795.6 602.2,791.2 600.2,790.9 C598.2,790.6 596.4,794.6 594.0,797.0 C591.6,799.4 588.6,803.2 585.9,805.2 C583.2,807.2 579.9,809.3 577.7,809.3 C575.5,809.3 573.1,807.9 572.6,805.2 C572.1,802.5 573.4,796.5 574.6,792.9 C575.8,789.3 577.1,786.1 579.7,783.7 C582.3,781.3 586.2,780.0 590.0,778.6 C593.8,777.2 598.5,776.5 602.2,775.5 C605.9,774.5 610.2,774.0 612.4,772.5 C614.6,771.0 614.5,768.7 615.5,766.3 C616.5,763.9 616.1,759.9 618.6,758.2 Z" fill="#d4c6de" filter="url(#blur1)"/>
<path d="M669.7,819.5 C670.9,818.8 672.6,820.5 673.8,823.6 C675.0,826.7 676.5,833.1 676.8,837.9 C677.1,842.7 676.6,847.8 675.8,852.2 C674.9,856.6 673.4,860.6 671.7,864.4 C670.0,868.1 667.0,873.3 665.6,874.7 C664.2,876.1 663.7,875.7 663.5,872.6 C663.3,869.5 664.2,861.8 664.6,856.3 C665.0,850.8 665.3,844.7 665.6,839.9 C665.9,835.1 665.9,831.1 666.6,827.7 C667.3,824.3 668.5,820.2 669.7,819.5 Z" fill="#d8d4e4" filter="url(#blur1)"/>
<rect x="546.4" y="753.3" width="136" height="148.2" filter="url(#tw3)" opacity="0.45"/>
<rect x="546.4" y="753.3" width="136" height="148.2" filter="url(#td3)" opacity="0.5"/>
<ellipse cx="620" cy="780" rx="2.5" ry="3.5" fill="#ece6ee" filter="url(#blur1)"/>
<ellipse cx="635" cy="790" rx="3" ry="4.199999999999999" fill="#ece6ee" filter="url(#blur1)"/>
<ellipse cx="645" cy="800" rx="2" ry="2.8" fill="#ece6ee" filter="url(#blur1)"/>
<ellipse cx="628" cy="830" rx="2.5" ry="3.5" fill="#ece6ee" filter="url(#blur1)"/>
<ellipse cx="638" cy="860" rx="2" ry="2.8" fill="#ece6ee" filter="url(#blur1)"/>
<ellipse cx="625" cy="845" rx="2" ry="2.8" fill="#ece6ee" filter="url(#blur1)"/>
<ellipse cx="650" cy="770" rx="2" ry="2.8" fill="#ece6ee" filter="url(#blur1)"/>
</g>
<path d="M618.6,758.2 C621.1,756.5 626.0,756.5 630.8,756.1 C635.6,755.7 641.2,755.5 647.2,755.7 C653.2,755.9 663.0,755.4 666.6,757.2 C670.2,759.0 668.3,760.7 668.6,766.3 C668.9,771.9 669.8,787.6 668.6,790.9 C667.4,794.1 663.4,784.8 661.5,785.8 C659.6,786.8 657.9,792.1 657.4,797.0 C656.9,801.9 657.7,808.9 658.4,815.4 C659.1,821.9 662.4,831.7 661.5,835.8 C660.6,839.9 656.0,838.5 653.3,839.9 C650.6,841.3 647.3,841.3 645.1,844.0 C642.9,846.7 642.0,851.9 640.0,856.3 C638.0,860.7 635.1,865.8 632.9,870.6 C630.7,875.4 628.4,880.5 626.7,884.9 C625.0,889.3 623.7,894.0 622.7,897.1 C621.7,900.2 621.5,904.6 620.6,903.3 C619.8,901.9 619.3,893.4 617.6,889.0 C615.9,884.6 612.3,880.8 610.4,876.7 C608.5,872.6 607.0,870.2 606.3,864.4 C605.6,858.6 606.1,848.1 606.3,842.0 C606.5,835.9 605.9,831.5 607.3,827.7 C608.7,824.0 613.6,822.2 614.5,819.5 C615.4,816.8 613.8,814.7 612.4,811.3 C611.0,807.9 608.3,802.4 606.3,799.0 C604.3,795.6 602.2,791.2 600.2,790.9 C598.2,790.6 596.4,794.6 594.0,797.0 C591.6,799.4 588.6,803.2 585.9,805.2 C583.2,807.2 579.9,809.3 577.7,809.3 C575.5,809.3 573.1,807.9 572.6,805.2 C572.1,802.5 573.4,796.5 574.6,792.9 C575.8,789.3 577.1,786.1 579.7,783.7 C582.3,781.3 586.2,780.0 590.0,778.6 C593.8,777.2 598.5,776.5 602.2,775.5 C605.9,774.5 610.2,774.0 612.4,772.5 C614.6,771.0 614.5,768.7 615.5,766.3 C616.5,763.9 616.1,759.9 618.6,758.2 Z" fill="none" stroke="#221b26" stroke-width="1.9" stroke-dasharray="3.9 3.0"/>
<path d="M669.7,819.5 C670.9,818.8 672.6,820.5 673.8,823.6 C675.0,826.7 676.5,833.1 676.8,837.9 C677.1,842.7 676.6,847.8 675.8,852.2 C674.9,856.6 673.4,860.6 671.7,864.4 C670.0,868.1 667.0,873.3 665.6,874.7 C664.2,876.1 663.7,875.7 663.5,872.6 C663.3,869.5 664.2,861.8 664.6,856.3 C665.0,850.8 665.3,844.7 665.6,839.9 C665.9,835.1 665.9,831.1 666.6,827.7 C667.3,824.3 668.5,820.2 669.7,819.5 Z" fill="none" stroke="#221b26" stroke-width="1.9" stroke-dasharray="3.9 3.0"/>
<text transform="translate(546.8,901) scale(0.74,1)" font-family="'Liberation Sans', sans-serif" font-size="22" fill="#000">G5</text>
<line x1="655.2" y1="891.8" x2="675.7" y2="891.8" stroke="#111" stroke-width="1.9"/>
<text x="665.5" y="888.5" font-family="'Liberation Sans', sans-serif" font-size="5.5" text-anchor="middle" fill="#333">200 &#956;m</text>
</svg>
</body></html>
